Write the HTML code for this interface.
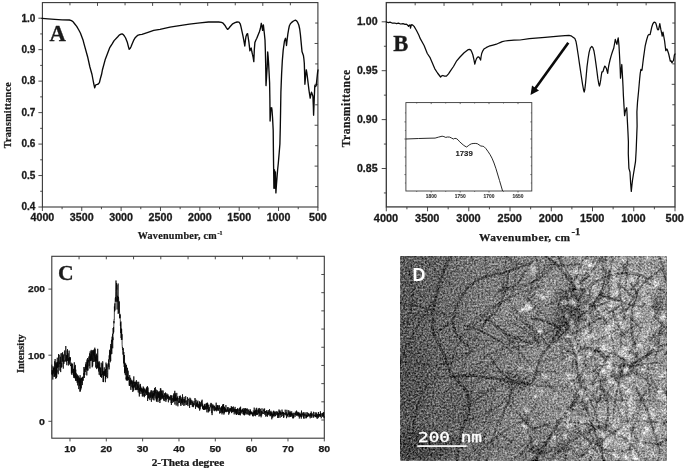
<!DOCTYPE html>
<html lang="en">
<head>
<meta charset="utf-8">
<title>FTIR spectra, XRD pattern and TEM image</title>
<style>
html,body{margin:0;padding:0;background:#fff;}
body{width:685px;height:470px;overflow:hidden;}
svg{display:block;}
</style>
</head>
<body>
<svg width="685" height="470" viewBox="0 0 685 470">
<rect x="0" y="0" width="685" height="470" fill="#ffffff"/>
<rect x="42.40" y="2.60" width="275.50" height="204.40" fill="none" stroke="#383838" stroke-width="1.1"/>
<line x1="69.95" y1="2.60" x2="69.95" y2="5.30" stroke="#383838" stroke-width="0.9"/>
<line x1="317.90" y1="23.04" x2="315.20" y2="23.04" stroke="#383838" stroke-width="0.9"/>
<line x1="97.50" y1="2.60" x2="97.50" y2="5.90" stroke="#383838" stroke-width="0.9"/>
<line x1="317.90" y1="43.48" x2="314.60" y2="43.48" stroke="#383838" stroke-width="0.9"/>
<line x1="125.05" y1="2.60" x2="125.05" y2="5.30" stroke="#383838" stroke-width="0.9"/>
<line x1="317.90" y1="63.92" x2="315.20" y2="63.92" stroke="#383838" stroke-width="0.9"/>
<line x1="152.60" y1="2.60" x2="152.60" y2="5.90" stroke="#383838" stroke-width="0.9"/>
<line x1="317.90" y1="84.36" x2="314.60" y2="84.36" stroke="#383838" stroke-width="0.9"/>
<line x1="180.15" y1="2.60" x2="180.15" y2="5.30" stroke="#383838" stroke-width="0.9"/>
<line x1="317.90" y1="104.80" x2="315.20" y2="104.80" stroke="#383838" stroke-width="0.9"/>
<line x1="207.70" y1="2.60" x2="207.70" y2="5.90" stroke="#383838" stroke-width="0.9"/>
<line x1="317.90" y1="125.24" x2="314.60" y2="125.24" stroke="#383838" stroke-width="0.9"/>
<line x1="235.25" y1="2.60" x2="235.25" y2="5.30" stroke="#383838" stroke-width="0.9"/>
<line x1="317.90" y1="145.68" x2="315.20" y2="145.68" stroke="#383838" stroke-width="0.9"/>
<line x1="262.80" y1="2.60" x2="262.80" y2="5.90" stroke="#383838" stroke-width="0.9"/>
<line x1="317.90" y1="166.12" x2="314.60" y2="166.12" stroke="#383838" stroke-width="0.9"/>
<line x1="290.35" y1="2.60" x2="290.35" y2="5.30" stroke="#383838" stroke-width="0.9"/>
<line x1="317.90" y1="186.56" x2="315.20" y2="186.56" stroke="#383838" stroke-width="0.9"/>
<line x1="42.40" y1="18.20" x2="38.40" y2="18.20" stroke="#383838" stroke-width="0.9"/>
<text x="35.30" y="21.50" font-family='"Liberation Sans", "DejaVu Sans", sans-serif' font-size="10" font-weight="bold" text-anchor="end" fill="#1a1a1a" stroke="#1a1a1a" stroke-width="0.3" >1.0</text>
<line x1="42.40" y1="33.93" x2="40.20" y2="33.93" stroke="#383838" stroke-width="0.9"/>
<line x1="42.40" y1="49.67" x2="38.40" y2="49.67" stroke="#383838" stroke-width="0.9"/>
<text x="35.30" y="52.97" font-family='"Liberation Sans", "DejaVu Sans", sans-serif' font-size="10" font-weight="bold" text-anchor="end" fill="#1a1a1a" stroke="#1a1a1a" stroke-width="0.3" >0.9</text>
<line x1="42.40" y1="65.40" x2="40.20" y2="65.40" stroke="#383838" stroke-width="0.9"/>
<line x1="42.40" y1="81.14" x2="38.40" y2="81.14" stroke="#383838" stroke-width="0.9"/>
<text x="35.30" y="84.44" font-family='"Liberation Sans", "DejaVu Sans", sans-serif' font-size="10" font-weight="bold" text-anchor="end" fill="#1a1a1a" stroke="#1a1a1a" stroke-width="0.3" >0.8</text>
<line x1="42.40" y1="96.87" x2="40.20" y2="96.87" stroke="#383838" stroke-width="0.9"/>
<line x1="42.40" y1="112.61" x2="38.40" y2="112.61" stroke="#383838" stroke-width="0.9"/>
<text x="35.30" y="115.91" font-family='"Liberation Sans", "DejaVu Sans", sans-serif' font-size="10" font-weight="bold" text-anchor="end" fill="#1a1a1a" stroke="#1a1a1a" stroke-width="0.3" >0.7</text>
<line x1="42.40" y1="128.34" x2="40.20" y2="128.34" stroke="#383838" stroke-width="0.9"/>
<line x1="42.40" y1="144.08" x2="38.40" y2="144.08" stroke="#383838" stroke-width="0.9"/>
<text x="35.30" y="147.38" font-family='"Liberation Sans", "DejaVu Sans", sans-serif' font-size="10" font-weight="bold" text-anchor="end" fill="#1a1a1a" stroke="#1a1a1a" stroke-width="0.3" >0.6</text>
<line x1="42.40" y1="159.81" x2="40.20" y2="159.81" stroke="#383838" stroke-width="0.9"/>
<line x1="42.40" y1="175.55" x2="38.40" y2="175.55" stroke="#383838" stroke-width="0.9"/>
<text x="35.30" y="178.85" font-family='"Liberation Sans", "DejaVu Sans", sans-serif' font-size="10" font-weight="bold" text-anchor="end" fill="#1a1a1a" stroke="#1a1a1a" stroke-width="0.3" >0.5</text>
<line x1="42.40" y1="191.28" x2="40.20" y2="191.28" stroke="#383838" stroke-width="0.9"/>
<line x1="42.40" y1="207.02" x2="38.40" y2="207.02" stroke="#383838" stroke-width="0.9"/>
<text x="35.30" y="210.32" font-family='"Liberation Sans", "DejaVu Sans", sans-serif' font-size="10" font-weight="bold" text-anchor="end" fill="#1a1a1a" stroke="#1a1a1a" stroke-width="0.3" >0.4</text>
<line x1="42.40" y1="207.00" x2="42.40" y2="211.00" stroke="#383838" stroke-width="0.9"/>
<text x="42.40" y="221.20" font-family='"Liberation Sans", "DejaVu Sans", sans-serif' font-size="10.7" font-weight="bold" text-anchor="middle" fill="#1a1a1a" stroke="#1a1a1a" stroke-width="0.3" >4000</text>
<line x1="62.08" y1="207.00" x2="62.08" y2="209.20" stroke="#383838" stroke-width="0.9"/>
<line x1="81.76" y1="207.00" x2="81.76" y2="211.00" stroke="#383838" stroke-width="0.9"/>
<text x="81.76" y="221.20" font-family='"Liberation Sans", "DejaVu Sans", sans-serif' font-size="10.7" font-weight="bold" text-anchor="middle" fill="#1a1a1a" stroke="#1a1a1a" stroke-width="0.3" >3500</text>
<line x1="101.44" y1="207.00" x2="101.44" y2="209.20" stroke="#383838" stroke-width="0.9"/>
<line x1="121.11" y1="207.00" x2="121.11" y2="211.00" stroke="#383838" stroke-width="0.9"/>
<text x="121.11" y="221.20" font-family='"Liberation Sans", "DejaVu Sans", sans-serif' font-size="10.7" font-weight="bold" text-anchor="middle" fill="#1a1a1a" stroke="#1a1a1a" stroke-width="0.3" >3000</text>
<line x1="140.79" y1="207.00" x2="140.79" y2="209.20" stroke="#383838" stroke-width="0.9"/>
<line x1="160.47" y1="207.00" x2="160.47" y2="211.00" stroke="#383838" stroke-width="0.9"/>
<text x="160.47" y="221.20" font-family='"Liberation Sans", "DejaVu Sans", sans-serif' font-size="10.7" font-weight="bold" text-anchor="middle" fill="#1a1a1a" stroke="#1a1a1a" stroke-width="0.3" >2500</text>
<line x1="180.15" y1="207.00" x2="180.15" y2="209.20" stroke="#383838" stroke-width="0.9"/>
<line x1="199.83" y1="207.00" x2="199.83" y2="211.00" stroke="#383838" stroke-width="0.9"/>
<text x="199.83" y="221.20" font-family='"Liberation Sans", "DejaVu Sans", sans-serif' font-size="10.7" font-weight="bold" text-anchor="middle" fill="#1a1a1a" stroke="#1a1a1a" stroke-width="0.3" >2000</text>
<line x1="219.51" y1="207.00" x2="219.51" y2="209.20" stroke="#383838" stroke-width="0.9"/>
<line x1="239.19" y1="207.00" x2="239.19" y2="211.00" stroke="#383838" stroke-width="0.9"/>
<text x="239.19" y="221.20" font-family='"Liberation Sans", "DejaVu Sans", sans-serif' font-size="10.7" font-weight="bold" text-anchor="middle" fill="#1a1a1a" stroke="#1a1a1a" stroke-width="0.3" >1500</text>
<line x1="258.86" y1="207.00" x2="258.86" y2="209.20" stroke="#383838" stroke-width="0.9"/>
<line x1="278.54" y1="207.00" x2="278.54" y2="211.00" stroke="#383838" stroke-width="0.9"/>
<text x="278.54" y="221.20" font-family='"Liberation Sans", "DejaVu Sans", sans-serif' font-size="10.7" font-weight="bold" text-anchor="middle" fill="#1a1a1a" stroke="#1a1a1a" stroke-width="0.3" >1000</text>
<line x1="298.22" y1="207.00" x2="298.22" y2="209.20" stroke="#383838" stroke-width="0.9"/>
<line x1="317.90" y1="207.00" x2="317.90" y2="211.00" stroke="#383838" stroke-width="0.9"/>
<text x="317.90" y="221.20" font-family='"Liberation Sans", "DejaVu Sans", sans-serif' font-size="10.7" font-weight="bold" text-anchor="middle" fill="#1a1a1a" stroke="#1a1a1a" stroke-width="0.3" >500</text>
<polyline fill="none" stroke="#0a0a0a" stroke-width="1.35" stroke-linejoin="round" stroke-linecap="round" points="42.0,18.4 48.0,18.9 54.7,19.4 62.0,19.8 69.4,20.0 71.5,20.6 73.0,21.7 74.4,23.5 76.7,26.4 78.8,30.0 80.4,33.0 83.2,40.6 84.1,44.1 87.6,56.7 89.9,67.0 92.0,74.5 93.6,83.0 94.7,87.8 95.4,85.6 96.1,84.6 97.6,84.4 98.6,83.6 99.4,82.6 100.4,78.5 101.6,74.3 102.4,70.0 105.2,59.6 106.1,57.3 109.6,47.9 112.0,44.1 114.1,40.6 117.8,36.7 119.2,35.1 121.0,34.2 122.1,33.9 123.3,34.6 124.4,36.0 125.6,38.0 127.4,42.6 128.4,46.6 129.2,49.3 130.0,48.6 130.9,47.0 131.8,44.8 133.9,39.8 135.4,37.4 137.5,35.4 139.9,34.6 142.0,34.3 148.0,32.3 153.7,30.4 160.0,29.3 170.0,27.2 174.7,26.4 189.4,24.2 200.0,22.8 208.5,22.0 218.7,22.0 221.5,22.4 223.1,23.2 224.8,25.2 226.1,27.4 227.5,29.4 228.6,28.6 229.8,27.0 232.7,23.8 235.0,22.7 237.1,22.0 239.0,22.2 240.2,23.8 240.9,26.4 242.2,32.3 242.9,35.6 243.7,39.6 244.8,46.0 245.4,40.5 246.0,36.4 246.9,34.0 247.6,33.6 248.2,37.5 248.9,42.2 249.9,50.8 250.6,49.0 251.2,48.0 251.8,51.5 252.4,54.2 253.1,57.0 253.8,61.6 254.3,50.0 254.9,42.4 255.8,40.2 256.8,38.3 258.2,34.8 259.4,31.7 260.4,28.5 261.3,23.3 262.0,26.5 262.6,30.4 263.0,27.0 263.4,25.0 263.9,29.5 264.3,33.0 265.0,40.0 265.4,52.0 265.7,66.0 266.0,85.6 266.6,76.0 267.2,67.0 267.7,52.0 268.1,56.0 268.6,63.2 269.1,73.0 269.6,83.0 269.9,100.0 270.1,121.0 270.6,112.0 271.0,108.0 271.7,107.8 272.0,110.0 272.6,118.5 273.2,130.4 273.4,150.0 273.6,165.8 273.9,188.3 274.5,169.8 275.0,188.3 275.4,172.0 275.9,192.9 276.5,184.0 277.0,177.7 277.6,170.0 278.3,163.2 279.2,152.8 279.9,144.0 280.3,127.0 280.6,110.6 280.9,92.0 281.6,74.0 282.3,61.0 283.2,50.1 284.5,40.9 285.5,38.3 286.1,41.5 286.5,45.5 287.1,40.0 287.8,34.3 288.6,29.5 289.4,25.7 290.4,23.8 291.7,22.4 293.5,21.0 295.4,20.2 296.6,20.8 297.7,22.4 298.8,25.0 299.7,29.0 300.4,34.5 301.0,40.9 302.0,51.5 302.7,53.5 303.4,55.4 303.9,59.0 304.3,63.2 304.6,73.0 304.9,84.3 305.6,76.0 306.3,69.8 306.8,72.5 307.3,76.4 308.1,83.0 308.9,89.6 309.6,94.5 310.2,98.2 310.9,94.5 311.5,92.2 312.2,94.0 312.9,96.2 313.3,105.0 313.6,115.2 314.2,100.0 314.8,85.6 315.5,86.5 316.2,85.6 316.9,79.0 317.6,72.4 318.0,70.0"/>
<text x="57.60" y="41.10" font-family='"Liberation Serif", "DejaVu Serif", serif' font-size="22.6" font-weight="bold" text-anchor="middle" fill="#1a1a1a" stroke="#1a1a1a" stroke-width="0.3" >A</text>
<text transform="translate(11.2,115.3) rotate(-90)" font-family='"Liberation Serif", "DejaVu Serif", serif' font-size="10" font-weight="bold" text-anchor="middle" fill="#1a1a1a" stroke="#1a1a1a" stroke-width="0.22" textLength="66" lengthAdjust="spacing">Transmittance</text>
<text x="137.7" y="239.2" font-family='"Liberation Serif", "DejaVu Serif", serif' font-size="10.1" font-weight="bold" fill="#1a1a1a" stroke="#1a1a1a" stroke-width="0.22"><tspan textLength="79" lengthAdjust="spacing">Wavenumber, cm</tspan><tspan dx="0.6" dy="-4.6" font-size="6">-1</tspan></text>
<rect x="386.30" y="2.60" width="288.70" height="204.30" fill="none" stroke="#383838" stroke-width="1.3"/>
<line x1="415.17" y1="2.60" x2="415.17" y2="5.30" stroke="#383838" stroke-width="0.9"/>
<line x1="675.00" y1="23.03" x2="672.30" y2="23.03" stroke="#383838" stroke-width="0.9"/>
<line x1="444.04" y1="2.60" x2="444.04" y2="5.90" stroke="#383838" stroke-width="0.9"/>
<line x1="675.00" y1="43.46" x2="671.70" y2="43.46" stroke="#383838" stroke-width="0.9"/>
<line x1="472.91" y1="2.60" x2="472.91" y2="5.30" stroke="#383838" stroke-width="0.9"/>
<line x1="675.00" y1="63.89" x2="672.30" y2="63.89" stroke="#383838" stroke-width="0.9"/>
<line x1="501.78" y1="2.60" x2="501.78" y2="5.90" stroke="#383838" stroke-width="0.9"/>
<line x1="675.00" y1="84.32" x2="671.70" y2="84.32" stroke="#383838" stroke-width="0.9"/>
<line x1="530.65" y1="2.60" x2="530.65" y2="5.30" stroke="#383838" stroke-width="0.9"/>
<line x1="675.00" y1="104.75" x2="672.30" y2="104.75" stroke="#383838" stroke-width="0.9"/>
<line x1="559.52" y1="2.60" x2="559.52" y2="5.90" stroke="#383838" stroke-width="0.9"/>
<line x1="675.00" y1="125.18" x2="671.70" y2="125.18" stroke="#383838" stroke-width="0.9"/>
<line x1="588.39" y1="2.60" x2="588.39" y2="5.30" stroke="#383838" stroke-width="0.9"/>
<line x1="675.00" y1="145.61" x2="672.30" y2="145.61" stroke="#383838" stroke-width="0.9"/>
<line x1="617.26" y1="2.60" x2="617.26" y2="5.90" stroke="#383838" stroke-width="0.9"/>
<line x1="675.00" y1="166.04" x2="671.70" y2="166.04" stroke="#383838" stroke-width="0.9"/>
<line x1="646.13" y1="2.60" x2="646.13" y2="5.30" stroke="#383838" stroke-width="0.9"/>
<line x1="675.00" y1="186.47" x2="672.30" y2="186.47" stroke="#383838" stroke-width="0.9"/>
<line x1="386.30" y1="21.80" x2="381.70" y2="21.80" stroke="#383838" stroke-width="0.9"/>
<text x="377.60" y="25.20" font-family='"Liberation Sans", "DejaVu Sans", sans-serif' font-size="10.6" font-weight="bold" text-anchor="end" fill="#1a1a1a" stroke="#1a1a1a" stroke-width="0.3" >1.00</text>
<line x1="386.30" y1="46.25" x2="383.90" y2="46.25" stroke="#383838" stroke-width="0.9"/>
<line x1="386.30" y1="70.70" x2="381.70" y2="70.70" stroke="#383838" stroke-width="0.9"/>
<text x="377.60" y="74.10" font-family='"Liberation Sans", "DejaVu Sans", sans-serif' font-size="10.6" font-weight="bold" text-anchor="end" fill="#1a1a1a" stroke="#1a1a1a" stroke-width="0.3" >0.95</text>
<line x1="386.30" y1="95.15" x2="383.90" y2="95.15" stroke="#383838" stroke-width="0.9"/>
<line x1="386.30" y1="119.60" x2="381.70" y2="119.60" stroke="#383838" stroke-width="0.9"/>
<text x="377.60" y="123.00" font-family='"Liberation Sans", "DejaVu Sans", sans-serif' font-size="10.6" font-weight="bold" text-anchor="end" fill="#1a1a1a" stroke="#1a1a1a" stroke-width="0.3" >0.90</text>
<line x1="386.30" y1="144.05" x2="383.90" y2="144.05" stroke="#383838" stroke-width="0.9"/>
<line x1="386.30" y1="168.50" x2="381.70" y2="168.50" stroke="#383838" stroke-width="0.9"/>
<text x="377.60" y="171.90" font-family='"Liberation Sans", "DejaVu Sans", sans-serif' font-size="10.6" font-weight="bold" text-anchor="end" fill="#1a1a1a" stroke="#1a1a1a" stroke-width="0.3" >0.85</text>
<line x1="386.30" y1="192.95" x2="383.90" y2="192.95" stroke="#383838" stroke-width="0.9"/>
<line x1="386.30" y1="206.90" x2="386.30" y2="211.30" stroke="#383838" stroke-width="0.9"/>
<text x="386.00" y="221.50" font-family='"Liberation Sans", "DejaVu Sans", sans-serif' font-size="10.95" font-weight="bold" text-anchor="middle" fill="#1a1a1a" stroke="#1a1a1a" stroke-width="0.3" >4000</text>
<line x1="406.92" y1="206.90" x2="406.92" y2="209.30" stroke="#383838" stroke-width="0.9"/>
<line x1="427.54" y1="206.90" x2="427.54" y2="211.30" stroke="#383838" stroke-width="0.9"/>
<text x="427.24" y="221.50" font-family='"Liberation Sans", "DejaVu Sans", sans-serif' font-size="10.95" font-weight="bold" text-anchor="middle" fill="#1a1a1a" stroke="#1a1a1a" stroke-width="0.3" >3500</text>
<line x1="448.16" y1="206.90" x2="448.16" y2="209.30" stroke="#383838" stroke-width="0.9"/>
<line x1="468.79" y1="206.90" x2="468.79" y2="211.30" stroke="#383838" stroke-width="0.9"/>
<text x="468.49" y="221.50" font-family='"Liberation Sans", "DejaVu Sans", sans-serif' font-size="10.95" font-weight="bold" text-anchor="middle" fill="#1a1a1a" stroke="#1a1a1a" stroke-width="0.3" >3000</text>
<line x1="489.41" y1="206.90" x2="489.41" y2="209.30" stroke="#383838" stroke-width="0.9"/>
<line x1="510.03" y1="206.90" x2="510.03" y2="211.30" stroke="#383838" stroke-width="0.9"/>
<text x="509.73" y="221.50" font-family='"Liberation Sans", "DejaVu Sans", sans-serif' font-size="10.95" font-weight="bold" text-anchor="middle" fill="#1a1a1a" stroke="#1a1a1a" stroke-width="0.3" >2500</text>
<line x1="530.65" y1="206.90" x2="530.65" y2="209.30" stroke="#383838" stroke-width="0.9"/>
<line x1="551.27" y1="206.90" x2="551.27" y2="211.30" stroke="#383838" stroke-width="0.9"/>
<text x="550.97" y="221.50" font-family='"Liberation Sans", "DejaVu Sans", sans-serif' font-size="10.95" font-weight="bold" text-anchor="middle" fill="#1a1a1a" stroke="#1a1a1a" stroke-width="0.3" >2000</text>
<line x1="571.89" y1="206.90" x2="571.89" y2="209.30" stroke="#383838" stroke-width="0.9"/>
<line x1="592.51" y1="206.90" x2="592.51" y2="211.30" stroke="#383838" stroke-width="0.9"/>
<text x="592.21" y="221.50" font-family='"Liberation Sans", "DejaVu Sans", sans-serif' font-size="10.95" font-weight="bold" text-anchor="middle" fill="#1a1a1a" stroke="#1a1a1a" stroke-width="0.3" >1500</text>
<line x1="613.14" y1="206.90" x2="613.14" y2="209.30" stroke="#383838" stroke-width="0.9"/>
<line x1="633.76" y1="206.90" x2="633.76" y2="211.30" stroke="#383838" stroke-width="0.9"/>
<text x="633.46" y="221.50" font-family='"Liberation Sans", "DejaVu Sans", sans-serif' font-size="10.95" font-weight="bold" text-anchor="middle" fill="#1a1a1a" stroke="#1a1a1a" stroke-width="0.3" >1000</text>
<line x1="654.38" y1="206.90" x2="654.38" y2="209.30" stroke="#383838" stroke-width="0.9"/>
<line x1="675.00" y1="206.90" x2="675.00" y2="211.30" stroke="#383838" stroke-width="0.9"/>
<text x="674.70" y="221.50" font-family='"Liberation Sans", "DejaVu Sans", sans-serif' font-size="10.95" font-weight="bold" text-anchor="middle" fill="#1a1a1a" stroke="#1a1a1a" stroke-width="0.3" >500</text>
<polyline fill="none" stroke="#0a0a0a" stroke-width="1.25" stroke-linejoin="round" stroke-linecap="round" points="386.3,22.0 388.5,22.6 390.0,22.2 392.0,23.0 394.7,23.0 396.5,23.6 398.5,23.2 400.5,24.0 403.0,23.6 405.0,24.3 406.4,24.2 407.5,25.0 408.6,26.4 409.4,25.2 410.1,24.8 410.5,28.2 411.0,26.0 411.6,24.7 412.8,25.2 414.1,26.4 416.5,30.5 418.9,35.2 420.0,38.1 424.1,45.5 427.3,53.5 429.9,57.3 434.7,68.6 437.5,73.0 440.6,77.0 441.7,75.8 442.8,75.5 444.5,76.2 446.4,76.2 448.5,73.8 450.8,70.4 453.5,66.5 456.7,60.8 460.0,57.0 464.1,52.8 467.7,49.9 469.3,49.4 470.7,49.9 471.8,52.0 472.9,55.0 473.9,59.5 474.8,64.1 475.6,61.0 476.5,58.6 477.6,57.2 478.7,56.9 479.7,58.2 480.6,60.1 481.1,56.5 481.7,53.5 482.8,50.8 483.9,49.1 486.5,47.4 489.0,46.2 493.0,45.1 496.4,44.2 499.5,42.8 502.2,41.7 505.0,41.0 508.1,40.6 514.0,40.2 520.0,40.0 529.4,38.6 545.0,37.4 558.7,36.2 565.0,35.6 569.0,35.4 571.0,35.8 572.7,36.9 574.9,38.6 576.0,41.5 576.8,45.9 578.2,55.0 579.7,65.3 581.2,75.5 582.6,84.7 583.5,89.5 584.2,92.0 584.8,89.5 585.4,84.7 586.2,76.0 587.0,66.9 588.1,58.5 589.1,52.4 590.3,48.2 591.8,46.4 592.9,47.6 593.9,50.7 594.9,56.5 595.9,63.7 596.9,71.0 597.8,78.2 598.7,83.5 599.4,86.0 600.0,84.0 600.7,79.9 601.3,75.5 601.9,71.8 602.6,71.8 603.2,71.0 604.0,68.0 604.8,66.1 605.6,67.0 606.4,68.5 607.1,71.0 607.7,73.4 608.2,69.0 608.8,65.3 610.0,60.0 611.2,55.6 612.5,51.5 613.7,48.3 614.5,44.0 615.3,39.4 616.1,42.0 616.9,44.3 617.6,40.5 618.2,37.8 618.6,41.5 619.0,45.9 619.4,53.0 619.8,60.4 620.2,69.5 620.5,78.2 621.1,70.5 621.8,64.5 622.2,71.0 622.6,78.2 623.0,86.0 623.4,95.8 624.0,106.0 624.6,115.6 625.2,112.0 625.6,110.4 626.2,108.6 626.7,107.7 627.0,113.0 627.3,119.6 627.9,131.0 628.4,142.0 628.3,153.8 628.9,168.3 630.0,172.2 630.6,182.8 631.3,191.4 631.9,185.5 632.5,180.1 633.4,174.5 634.2,169.6 635.5,161.7 636.2,149.8 636.8,134.0 637.1,126.0 636.9,112.0 637.5,102.4 638.6,91.0 639.6,79.5 640.2,73.5 640.9,69.3 641.5,70.4 642.0,70.1 642.8,63.5 643.6,57.2 644.4,51.5 645.2,45.9 646.6,40.0 648.0,35.4 649.0,34.5 650.1,34.6 650.9,31.0 651.7,27.3 652.7,24.2 653.8,22.4 654.8,22.2 655.7,22.9 656.5,25.5 657.3,28.9 658.0,29.8 658.6,29.7 659.2,26.5 659.8,23.6 660.3,26.5 660.9,29.7 661.6,33.0 662.2,36.2 662.6,33.5 663.0,32.1 663.8,36.5 664.6,41.0 665.2,46.0 665.8,50.7 666.4,49.2 667.1,49.1 667.9,51.5 668.7,54.0 669.5,57.5 670.3,61.2 671.1,60.8 671.9,62.9 672.7,61.5 673.5,60.4 674.0,57.5 674.4,54.8 675.0,54.0"/>
<text x="400.90" y="51.40" font-family='"Liberation Serif", "DejaVu Serif", serif' font-size="22.6" font-weight="bold" text-anchor="middle" fill="#1a1a1a" stroke="#1a1a1a" stroke-width="0.3" >B</text>
<text transform="translate(349.6,108.5) rotate(-90)" font-family='"Liberation Serif", "DejaVu Serif", serif' font-size="11.6" font-weight="bold" text-anchor="middle" fill="#1a1a1a" stroke="#1a1a1a" stroke-width="0.22" textLength="77.4" lengthAdjust="spacing">Transmittance</text>
<text x="479.0" y="240.6" font-family='"Liberation Serif", "DejaVu Serif", serif' font-size="11.4" font-weight="bold" fill="#1a1a1a" stroke="#1a1a1a" stroke-width="0.25"><tspan textLength="91" lengthAdjust="spacing">Wavenumber, cm</tspan><tspan dx="1.0" dy="-5.6" font-size="10.6">-1</tspan></text>
<line x1="568.3" y1="42.8" x2="534.9" y2="88.9" stroke="#0a0a0a" stroke-width="2.6"/>
<polygon fill="#0a0a0a" points="530.5,95.0 532.0,85.6 539.0,90.6"/>
<rect x="405.90" y="102.60" width="125.90" height="88.40" fill="none" stroke="#383838" stroke-width="0.9"/>
<line x1="405.90" y1="121.90" x2="404.40" y2="121.90" stroke="#383838" stroke-width="0.7"/>
<line x1="531.80" y1="121.90" x2="530.30" y2="121.90" stroke="#383838" stroke-width="0.7"/>
<line x1="405.90" y1="139.00" x2="404.40" y2="139.00" stroke="#383838" stroke-width="0.7"/>
<line x1="531.80" y1="139.00" x2="530.30" y2="139.00" stroke="#383838" stroke-width="0.7"/>
<line x1="405.90" y1="157.00" x2="404.40" y2="157.00" stroke="#383838" stroke-width="0.7"/>
<line x1="531.80" y1="157.00" x2="530.30" y2="157.00" stroke="#383838" stroke-width="0.7"/>
<line x1="405.90" y1="174.60" x2="404.40" y2="174.60" stroke="#383838" stroke-width="0.7"/>
<line x1="531.80" y1="174.60" x2="530.30" y2="174.60" stroke="#383838" stroke-width="0.7"/>
<line x1="405.90" y1="112.90" x2="404.90" y2="112.90" stroke="#383838" stroke-width="0.6"/>
<line x1="531.80" y1="112.90" x2="530.80" y2="112.90" stroke="#383838" stroke-width="0.6"/>
<line x1="405.90" y1="130.50" x2="404.90" y2="130.50" stroke="#383838" stroke-width="0.6"/>
<line x1="531.80" y1="130.50" x2="530.80" y2="130.50" stroke="#383838" stroke-width="0.6"/>
<line x1="405.90" y1="148.00" x2="404.90" y2="148.00" stroke="#383838" stroke-width="0.6"/>
<line x1="531.80" y1="148.00" x2="530.80" y2="148.00" stroke="#383838" stroke-width="0.6"/>
<line x1="405.90" y1="165.80" x2="404.90" y2="165.80" stroke="#383838" stroke-width="0.6"/>
<line x1="531.80" y1="165.80" x2="530.80" y2="165.80" stroke="#383838" stroke-width="0.6"/>
<line x1="405.90" y1="183.00" x2="404.90" y2="183.00" stroke="#383838" stroke-width="0.6"/>
<line x1="531.80" y1="183.00" x2="530.80" y2="183.00" stroke="#383838" stroke-width="0.6"/>
<line x1="431.20" y1="191.00" x2="431.20" y2="192.50" stroke="#383838" stroke-width="0.7"/>
<line x1="431.20" y1="102.60" x2="431.20" y2="104.10" stroke="#383838" stroke-width="0.7"/>
<text x="431.20" y="198.00" font-family='"Liberation Sans", "DejaVu Sans", sans-serif' font-size="4.9" font-weight="bold" text-anchor="middle" fill="#333" stroke="#333" stroke-width="0.1" >1800</text>
<line x1="460.20" y1="191.00" x2="460.20" y2="192.50" stroke="#383838" stroke-width="0.7"/>
<line x1="460.20" y1="102.60" x2="460.20" y2="104.10" stroke="#383838" stroke-width="0.7"/>
<text x="460.20" y="198.00" font-family='"Liberation Sans", "DejaVu Sans", sans-serif' font-size="4.9" font-weight="bold" text-anchor="middle" fill="#333" stroke="#333" stroke-width="0.1" >1750</text>
<line x1="489.00" y1="191.00" x2="489.00" y2="192.50" stroke="#383838" stroke-width="0.7"/>
<line x1="489.00" y1="102.60" x2="489.00" y2="104.10" stroke="#383838" stroke-width="0.7"/>
<text x="489.00" y="198.00" font-family='"Liberation Sans", "DejaVu Sans", sans-serif' font-size="4.9" font-weight="bold" text-anchor="middle" fill="#333" stroke="#333" stroke-width="0.1" >1700</text>
<line x1="518.00" y1="191.00" x2="518.00" y2="192.50" stroke="#383838" stroke-width="0.7"/>
<line x1="518.00" y1="102.60" x2="518.00" y2="104.10" stroke="#383838" stroke-width="0.7"/>
<text x="518.00" y="198.00" font-family='"Liberation Sans", "DejaVu Sans", sans-serif' font-size="4.9" font-weight="bold" text-anchor="middle" fill="#333" stroke="#333" stroke-width="0.1" >1650</text>
<line x1="416.70" y1="191.00" x2="416.70" y2="192.00" stroke="#383838" stroke-width="0.6"/>
<line x1="416.70" y1="102.60" x2="416.70" y2="103.60" stroke="#383838" stroke-width="0.6"/>
<line x1="445.70" y1="191.00" x2="445.70" y2="192.00" stroke="#383838" stroke-width="0.6"/>
<line x1="445.70" y1="102.60" x2="445.70" y2="103.60" stroke="#383838" stroke-width="0.6"/>
<line x1="474.60" y1="191.00" x2="474.60" y2="192.00" stroke="#383838" stroke-width="0.6"/>
<line x1="474.60" y1="102.60" x2="474.60" y2="103.60" stroke="#383838" stroke-width="0.6"/>
<line x1="503.50" y1="191.00" x2="503.50" y2="192.00" stroke="#383838" stroke-width="0.6"/>
<line x1="503.50" y1="102.60" x2="503.50" y2="103.60" stroke="#383838" stroke-width="0.6"/>
<polyline fill="none" stroke="#111" stroke-width="0.9" stroke-linejoin="round" points="405.9,139.0 418.7,138.5 430.0,138.2 435.1,138.1 438.6,137.1 442.1,136.2 443.9,136.6 445.7,137.4 447.5,137.0 449.6,137.1 451.5,138.0 453.4,139.0 454.8,138.4 456.2,138.5 458.0,139.8 459.7,141.8 463.2,144.9 465.0,146.2 466.7,147.0 468.2,145.8 469.8,144.6 471.4,143.8 473.1,143.5 475.2,143.4 477.3,143.7 479.0,144.8 480.8,146.0 482.3,146.2 483.8,146.5 485.8,148.5 487.8,151.2 490.0,154.5 492.0,158.2 494.0,163.0 496.0,168.8 499.5,180.5 502.6,191.0"/>
<text x="464.10" y="156.40" font-family='"Liberation Sans", "DejaVu Sans", sans-serif' font-size="7.8" font-weight="bold" text-anchor="middle" fill="#222" stroke="#222" stroke-width="0.1" >1739</text>
<rect x="51.80" y="256.30" width="272.50" height="181.90" fill="none" stroke="#383838" stroke-width="1.1"/>
<line x1="79.05" y1="256.30" x2="79.05" y2="259.30" stroke="#383838" stroke-width="0.9"/>
<line x1="324.30" y1="274.49" x2="321.30" y2="274.49" stroke="#383838" stroke-width="0.9"/>
<line x1="106.30" y1="256.30" x2="106.30" y2="259.30" stroke="#383838" stroke-width="0.9"/>
<line x1="324.30" y1="292.68" x2="321.30" y2="292.68" stroke="#383838" stroke-width="0.9"/>
<line x1="133.55" y1="256.30" x2="133.55" y2="259.30" stroke="#383838" stroke-width="0.9"/>
<line x1="324.30" y1="310.87" x2="321.30" y2="310.87" stroke="#383838" stroke-width="0.9"/>
<line x1="160.80" y1="256.30" x2="160.80" y2="259.30" stroke="#383838" stroke-width="0.9"/>
<line x1="324.30" y1="329.06" x2="321.30" y2="329.06" stroke="#383838" stroke-width="0.9"/>
<line x1="188.05" y1="256.30" x2="188.05" y2="259.30" stroke="#383838" stroke-width="0.9"/>
<line x1="324.30" y1="347.25" x2="321.30" y2="347.25" stroke="#383838" stroke-width="0.9"/>
<line x1="215.30" y1="256.30" x2="215.30" y2="259.30" stroke="#383838" stroke-width="0.9"/>
<line x1="324.30" y1="365.44" x2="321.30" y2="365.44" stroke="#383838" stroke-width="0.9"/>
<line x1="242.55" y1="256.30" x2="242.55" y2="259.30" stroke="#383838" stroke-width="0.9"/>
<line x1="324.30" y1="383.63" x2="321.30" y2="383.63" stroke="#383838" stroke-width="0.9"/>
<line x1="269.80" y1="256.30" x2="269.80" y2="259.30" stroke="#383838" stroke-width="0.9"/>
<line x1="324.30" y1="401.82" x2="321.30" y2="401.82" stroke="#383838" stroke-width="0.9"/>
<line x1="297.05" y1="256.30" x2="297.05" y2="259.30" stroke="#383838" stroke-width="0.9"/>
<line x1="324.30" y1="420.01" x2="321.30" y2="420.01" stroke="#383838" stroke-width="0.9"/>
<line x1="51.80" y1="421.30" x2="48.40" y2="421.30" stroke="#383838" stroke-width="0.9"/>
<text x="45.0" y="424.6" font-family='"Liberation Sans", "DejaVu Sans", sans-serif' font-size="9.9" font-weight="bold" text-anchor="end" fill="#1a1a1a" stroke="#1a1a1a" stroke-width="0.25" textLength="5.9" lengthAdjust="spacingAndGlyphs">0</text>
<line x1="51.80" y1="355.20" x2="48.40" y2="355.20" stroke="#383838" stroke-width="0.9"/>
<text x="45.0" y="358.5" font-family='"Liberation Sans", "DejaVu Sans", sans-serif' font-size="9.9" font-weight="bold" text-anchor="end" fill="#1a1a1a" stroke="#1a1a1a" stroke-width="0.25" textLength="17.0" lengthAdjust="spacingAndGlyphs">100</text>
<line x1="51.80" y1="289.10" x2="48.40" y2="289.10" stroke="#383838" stroke-width="0.9"/>
<text x="45.0" y="292.4" font-family='"Liberation Sans", "DejaVu Sans", sans-serif' font-size="9.9" font-weight="bold" text-anchor="end" fill="#1a1a1a" stroke="#1a1a1a" stroke-width="0.25" textLength="17.0" lengthAdjust="spacingAndGlyphs">200</text>
<line x1="69.97" y1="438.20" x2="69.97" y2="441.40" stroke="#383838" stroke-width="0.9"/>
<text x="70.0" y="451.7" font-family='"Liberation Sans", "DejaVu Sans", sans-serif' font-size="9.9" font-weight="bold" text-anchor="middle" fill="#1a1a1a" stroke="#1a1a1a" stroke-width="0.25" textLength="11.7" lengthAdjust="spacingAndGlyphs">10</text>
<line x1="106.30" y1="438.20" x2="106.30" y2="441.40" stroke="#383838" stroke-width="0.9"/>
<text x="106.3" y="451.7" font-family='"Liberation Sans", "DejaVu Sans", sans-serif' font-size="9.9" font-weight="bold" text-anchor="middle" fill="#1a1a1a" stroke="#1a1a1a" stroke-width="0.25" textLength="11.7" lengthAdjust="spacingAndGlyphs">20</text>
<line x1="142.63" y1="438.20" x2="142.63" y2="441.40" stroke="#383838" stroke-width="0.9"/>
<text x="142.6" y="451.7" font-family='"Liberation Sans", "DejaVu Sans", sans-serif' font-size="9.9" font-weight="bold" text-anchor="middle" fill="#1a1a1a" stroke="#1a1a1a" stroke-width="0.25" textLength="11.7" lengthAdjust="spacingAndGlyphs">30</text>
<line x1="178.97" y1="438.20" x2="178.97" y2="441.40" stroke="#383838" stroke-width="0.9"/>
<text x="179.0" y="451.7" font-family='"Liberation Sans", "DejaVu Sans", sans-serif' font-size="9.9" font-weight="bold" text-anchor="middle" fill="#1a1a1a" stroke="#1a1a1a" stroke-width="0.25" textLength="11.7" lengthAdjust="spacingAndGlyphs">40</text>
<line x1="215.30" y1="438.20" x2="215.30" y2="441.40" stroke="#383838" stroke-width="0.9"/>
<text x="215.3" y="451.7" font-family='"Liberation Sans", "DejaVu Sans", sans-serif' font-size="9.9" font-weight="bold" text-anchor="middle" fill="#1a1a1a" stroke="#1a1a1a" stroke-width="0.25" textLength="11.7" lengthAdjust="spacingAndGlyphs">50</text>
<line x1="251.63" y1="438.20" x2="251.63" y2="441.40" stroke="#383838" stroke-width="0.9"/>
<text x="251.6" y="451.7" font-family='"Liberation Sans", "DejaVu Sans", sans-serif' font-size="9.9" font-weight="bold" text-anchor="middle" fill="#1a1a1a" stroke="#1a1a1a" stroke-width="0.25" textLength="11.7" lengthAdjust="spacingAndGlyphs">60</text>
<line x1="287.97" y1="438.20" x2="287.97" y2="441.40" stroke="#383838" stroke-width="0.9"/>
<text x="288.0" y="451.7" font-family='"Liberation Sans", "DejaVu Sans", sans-serif' font-size="9.9" font-weight="bold" text-anchor="middle" fill="#1a1a1a" stroke="#1a1a1a" stroke-width="0.25" textLength="11.7" lengthAdjust="spacingAndGlyphs">70</text>
<line x1="324.30" y1="438.20" x2="324.30" y2="441.40" stroke="#383838" stroke-width="0.9"/>
<text x="324.3" y="451.7" font-family='"Liberation Sans", "DejaVu Sans", sans-serif' font-size="9.9" font-weight="bold" text-anchor="middle" fill="#1a1a1a" stroke="#1a1a1a" stroke-width="0.25" textLength="11.7" lengthAdjust="spacingAndGlyphs">80</text>
<polyline fill="none" stroke="#050505" stroke-width="0.75" stroke-linejoin="miter" points="51.8,364.6 51.9,374.4 52.1,371.9 52.2,370.0 52.4,375.4 52.5,371.6 52.7,371.4 52.8,379.5 53.0,366.3 53.1,368.1 53.3,373.7 53.4,371.4 53.5,368.1 53.7,371.6 53.8,371.3 54.0,376.9 54.1,367.2 54.3,369.1 54.4,368.2 54.6,376.7 54.7,361.3 54.9,368.3 55.0,371.4 55.1,359.0 55.3,368.8 55.4,375.4 55.6,370.2 55.7,378.7 55.9,362.9 56.0,369.8 56.2,371.2 56.3,362.3 56.5,378.1 56.6,364.5 56.7,377.0 56.9,370.1 57.0,372.6 57.2,359.4 57.3,357.7 57.5,367.8 57.6,361.9 57.8,366.8 57.9,362.9 58.0,369.3 58.2,373.8 58.3,374.2 58.5,363.2 58.6,354.0 58.8,363.4 58.9,367.2 59.1,354.9 59.2,363.1 59.4,363.6 59.5,362.6 59.6,364.4 59.8,365.1 59.9,370.6 60.1,360.6 60.2,363.5 60.4,356.8 60.5,364.5 60.7,372.1 60.8,362.7 61.0,353.4 61.1,363.8 61.2,366.2 61.4,367.6 61.5,366.7 61.7,362.7 61.8,367.0 62.0,353.1 62.1,362.0 62.3,359.8 62.4,352.8 62.6,352.3 62.7,360.9 62.8,358.0 63.0,355.8 63.1,360.5 63.3,368.6 63.4,355.9 63.6,354.5 63.7,356.9 63.9,363.8 64.0,359.9 64.2,361.8 64.3,360.8 64.4,351.8 64.6,350.5 64.7,354.8 64.9,355.4 65.0,354.6 65.2,358.1 65.3,358.3 65.5,361.4 65.6,358.0 65.8,346.0 65.9,352.9 66.0,359.2 66.2,359.8 66.3,361.7 66.5,355.3 66.6,355.4 66.8,365.2 66.9,355.2 67.1,360.8 67.2,350.5 67.4,357.3 67.5,349.2 67.6,360.8 67.8,360.0 67.9,357.1 68.1,353.3 68.2,356.0 68.4,365.5 68.5,358.2 68.7,359.2 68.8,361.7 68.9,362.9 69.1,350.6 69.2,361.8 69.4,364.5 69.5,357.2 69.7,360.1 69.8,361.4 70.0,357.3 70.1,359.1 70.3,360.1 70.4,357.4 70.5,361.1 70.7,366.0 70.8,365.0 71.0,366.1 71.1,362.7 71.3,369.4 71.4,373.5 71.6,364.2 71.7,371.6 71.9,374.9 72.0,363.7 72.1,369.4 72.3,363.7 72.4,369.1 72.6,372.3 72.7,373.1 72.9,369.9 73.0,369.0 73.2,372.0 73.3,369.6 73.5,376.0 73.6,368.8 73.7,377.8 73.9,370.4 74.0,366.5 74.2,364.9 74.3,362.3 74.5,378.2 74.6,367.7 74.8,366.1 74.9,367.6 75.1,376.9 75.2,371.1 75.3,364.9 75.5,380.7 75.6,371.3 75.8,369.7 75.9,378.3 76.1,372.9 76.2,380.8 76.4,380.0 76.5,380.5 76.7,376.4 76.8,378.1 76.9,374.0 77.1,382.7 77.2,379.6 77.4,375.1 77.5,377.0 77.7,385.4 77.8,377.1 78.0,382.2 78.1,378.7 78.3,379.3 78.4,375.7 78.5,380.6 78.7,389.1 78.8,387.3 79.0,378.7 79.1,383.1 79.3,377.5 79.4,381.3 79.6,385.8 79.7,378.5 79.8,386.5 80.0,391.8 80.1,375.2 80.3,391.2 80.4,380.6 80.6,379.1 80.7,382.1 80.9,389.5 81.0,378.0 81.2,388.1 81.3,387.4 81.4,383.1 81.6,378.0 81.7,379.9 81.9,377.5 82.0,382.6 82.2,381.2 82.3,385.1 82.5,381.4 82.6,377.2 82.8,380.7 82.9,376.7 83.0,380.7 83.2,380.3 83.3,376.9 83.5,377.4 83.6,373.3 83.8,374.6 83.9,367.0 84.1,375.3 84.2,374.7 84.4,377.9 84.5,372.5 84.6,368.8 84.8,374.9 84.9,371.1 85.1,366.9 85.2,370.3 85.4,371.9 85.5,364.4 85.7,368.3 85.8,366.5 86.0,362.4 86.1,362.2 86.2,369.1 86.4,369.7 86.5,365.4 86.7,367.1 86.8,375.4 87.0,359.5 87.1,365.3 87.3,361.5 87.4,370.6 87.6,358.0 87.7,367.1 87.8,364.3 88.0,370.5 88.1,364.0 88.3,364.0 88.4,363.4 88.6,359.9 88.7,361.5 88.9,356.5 89.0,363.5 89.2,365.9 89.3,360.6 89.4,356.9 89.6,353.4 89.7,355.4 89.9,368.5 90.0,357.2 90.2,351.3 90.3,358.3 90.5,361.1 90.6,356.5 90.7,360.6 90.9,354.3 91.0,357.5 91.2,349.9 91.3,354.3 91.5,360.6 91.6,353.3 91.8,351.3 91.9,359.0 92.1,358.1 92.2,367.3 92.3,350.5 92.5,358.2 92.6,366.2 92.8,364.1 92.9,355.6 93.1,350.0 93.2,354.4 93.4,351.7 93.5,360.4 93.7,362.0 93.8,350.4 93.9,352.8 94.1,355.9 94.2,349.3 94.4,361.5 94.5,359.0 94.7,351.6 94.8,347.7 95.0,357.6 95.1,349.2 95.3,361.5 95.4,356.9 95.5,359.9 95.7,367.5 95.8,358.3 96.0,355.1 96.1,361.0 96.3,360.9 96.4,353.7 96.6,367.6 96.7,369.1 96.9,365.1 97.0,368.2 97.1,355.6 97.3,361.2 97.4,367.4 97.6,366.4 97.7,348.8 97.9,367.0 98.0,368.1 98.2,363.1 98.3,361.7 98.5,364.1 98.6,370.0 98.7,371.5 98.9,363.2 99.0,366.7 99.2,374.8 99.3,361.4 99.5,363.6 99.6,368.8 99.8,369.2 99.9,367.2 100.1,371.9 100.2,375.4 100.3,367.7 100.5,376.4 100.6,368.0 100.8,377.0 100.9,370.9 101.1,371.4 101.2,362.7 101.4,376.1 101.5,377.8 101.6,374.2 101.8,376.5 101.9,374.1 102.1,369.4 102.2,367.8 102.4,363.7 102.5,374.9 102.7,361.3 102.8,362.3 103.0,372.6 103.1,382.0 103.2,372.1 103.4,371.4 103.5,382.1 103.7,371.5 103.8,372.9 104.0,375.6 104.1,369.1 104.3,367.4 104.4,374.4 104.6,371.1 104.7,375.3 104.8,375.9 105.0,371.9 105.1,369.9 105.3,374.9 105.4,382.2 105.6,369.0 105.7,378.9 105.9,370.6 106.0,362.6 106.2,370.7 106.3,376.0 106.4,377.1 106.6,364.3 106.7,369.7 106.9,366.8 107.0,364.7 107.2,369.1 107.3,370.0 107.5,372.7 107.6,378.2 107.8,374.3 107.9,366.7 108.0,366.6 108.2,363.2 108.3,365.2 108.5,363.2 108.6,359.4 108.8,367.2 108.9,363.5 109.1,369.4 109.2,355.4 109.4,359.4 109.5,356.2 109.6,349.8 109.8,351.4 109.9,356.6 110.1,351.2 110.2,362.3 110.4,351.4 110.5,352.2 110.7,361.0 110.8,344.0 111.0,354.4 111.1,345.9 111.2,351.2 111.4,342.4 111.5,339.8 111.7,351.1 111.8,353.9 112.0,344.2 112.1,336.7 112.3,342.2 112.4,342.0 112.5,333.7 112.7,348.3 112.8,337.3 113.0,340.1 113.1,328.0 113.3,332.8 113.4,333.6 113.6,327.1 113.7,332.3 113.9,320.9 114.0,323.3 114.1,319.3 114.3,319.6 114.4,306.5 114.6,311.5 114.7,305.1 114.9,303.4 115.0,310.4 115.2,298.6 115.3,298.2 115.5,297.1 115.6,301.5 115.7,301.0 115.9,291.4 116.0,280.5 116.2,301.7 116.3,291.0 116.5,283.0 116.6,287.7 116.8,289.5 116.9,284.9 117.1,309.5 117.2,298.3 117.3,301.7 117.5,295.8 117.6,300.9 117.8,300.9 117.9,291.8 118.1,283.5 118.2,313.9 118.4,300.8 118.5,296.8 118.7,299.6 118.8,304.0 118.9,313.0 119.1,311.9 119.2,302.0 119.4,301.5 119.5,310.1 119.7,318.3 119.8,313.8 120.0,317.9 120.1,314.6 120.3,319.3 120.4,325.9 120.5,322.5 120.7,333.1 120.8,322.2 121.0,321.6 121.1,338.0 121.3,328.7 121.4,339.9 121.6,328.9 121.7,331.5 121.9,339.9 122.0,334.2 122.1,344.2 122.3,347.0 122.4,348.2 122.6,347.3 122.7,349.9 122.9,348.8 123.0,354.6 123.2,348.2 123.3,348.0 123.4,357.3 123.6,363.4 123.7,353.1 123.9,352.1 124.0,360.1 124.2,367.0 124.3,360.2 124.5,355.0 124.6,373.2 124.8,362.6 124.9,367.7 125.0,371.4 125.2,366.0 125.3,375.1 125.5,367.9 125.6,363.5 125.8,369.3 125.9,374.7 126.1,379.4 126.2,377.4 126.4,380.5 126.5,364.9 126.6,373.9 126.8,378.0 126.9,379.6 127.1,378.9 127.2,376.0 127.4,380.7 127.5,367.8 127.7,379.1 127.8,379.7 128.0,375.3 128.1,370.7 128.2,371.7 128.4,380.1 128.5,377.3 128.7,378.2 128.8,377.0 129.0,378.6 129.1,384.1 129.3,385.8 129.4,379.8 129.6,385.7 129.7,375.1 129.8,380.8 130.0,385.5 130.1,382.7 130.3,383.6 130.4,382.2 130.6,377.8 130.7,388.0 130.9,389.9 131.0,380.9 131.2,383.2 131.3,381.9 131.4,380.9 131.6,383.6 131.7,379.7 131.9,386.9 132.0,383.1 132.2,386.9 132.3,388.3 132.5,381.3 132.6,381.7 132.8,392.0 132.9,388.8 133.0,383.3 133.2,380.3 133.3,387.4 133.5,385.6 133.6,390.7 133.8,376.4 133.9,383.5 134.1,382.0 134.2,383.1 134.3,382.1 134.5,383.6 134.6,387.5 134.8,383.4 134.9,386.1 135.1,381.5 135.2,389.7 135.4,389.0 135.5,384.4 135.7,382.1 135.8,386.6 135.9,390.1 136.1,387.9 136.2,389.4 136.4,380.2 136.5,384.2 136.7,382.9 136.8,386.3 137.0,390.1 137.1,383.5 137.3,381.8 137.4,386.0 137.5,388.4 137.7,384.3 137.8,389.9 138.0,385.7 138.1,391.4 138.3,392.5 138.4,386.7 138.6,387.7 138.7,381.8 138.9,390.2 139.0,389.2 139.1,393.6 139.3,396.5 139.4,396.2 139.6,387.9 139.7,394.1 139.9,385.6 140.0,384.6 140.2,391.1 140.3,383.9 140.5,389.3 140.6,386.1 140.7,391.2 140.9,386.9 141.0,394.0 141.2,388.3 141.3,392.4 141.5,391.3 141.6,388.6 141.8,390.4 141.9,391.4 142.1,388.5 142.2,388.3 142.3,396.4 142.5,389.4 142.6,389.1 142.8,394.3 142.9,390.2 143.1,396.5 143.2,386.5 143.4,392.7 143.5,392.1 143.7,387.5 143.8,392.4 143.9,389.8 144.1,395.8 144.2,394.1 144.4,397.2 144.5,392.9 144.7,388.5 144.8,391.4 145.0,389.1 145.1,396.0 145.2,395.6 145.4,394.1 145.5,390.4 145.7,391.2 145.8,392.6 146.0,390.4 146.1,393.2 146.3,392.8 146.4,388.1 146.6,394.9 146.7,392.2 146.8,387.1 147.0,392.6 147.1,390.5 147.3,395.2 147.4,386.1 147.6,401.0 147.7,397.2 147.9,397.0 148.0,387.5 148.2,392.1 148.3,394.3 148.4,398.0 148.6,392.2 148.7,393.1 148.9,396.0 149.0,398.9 149.2,397.5 149.3,392.9 149.5,392.6 149.6,393.5 149.8,394.4 149.9,400.1 150.0,393.7 150.2,397.5 150.3,393.8 150.5,392.3 150.6,396.4 150.8,397.6 150.9,390.5 151.1,392.8 151.2,396.3 151.4,401.8 151.5,394.3 151.6,391.9 151.8,390.2 151.9,396.6 152.1,396.5 152.2,395.8 152.4,391.3 152.5,398.4 152.7,394.7 152.8,397.6 153.0,393.4 153.1,399.8 153.2,393.1 153.4,396.2 153.5,395.2 153.7,392.6 153.8,390.5 154.0,400.4 154.1,391.0 154.3,392.6 154.4,395.6 154.6,388.0 154.7,394.0 154.8,390.2 155.0,396.7 155.1,397.7 155.3,390.5 155.4,387.2 155.6,392.6 155.7,391.7 155.9,396.5 156.0,399.4 156.1,395.6 156.3,389.7 156.4,401.3 156.6,396.6 156.7,401.6 156.9,394.6 157.0,392.0 157.2,399.3 157.3,396.5 157.5,390.5 157.6,395.4 157.7,399.4 157.9,399.7 158.0,402.1 158.2,392.5 158.3,397.8 158.5,391.6 158.6,392.3 158.8,397.5 158.9,397.1 159.1,392.7 159.2,394.8 159.3,394.5 159.5,401.0 159.6,391.3 159.8,398.4 159.9,403.0 160.1,397.6 160.2,394.1 160.4,388.4 160.5,396.8 160.7,400.1 160.8,388.4 160.9,395.1 161.1,396.5 161.2,399.3 161.4,399.1 161.5,390.7 161.7,396.7 161.8,397.6 162.0,397.5 162.1,390.5 162.3,397.8 162.4,393.7 162.5,395.0 162.7,395.1 162.8,398.9 163.0,393.7 163.1,390.5 163.3,396.2 163.4,399.1 163.6,400.4 163.7,395.4 163.9,397.0 164.0,396.5 164.1,396.1 164.3,401.1 164.4,393.5 164.6,395.4 164.7,396.5 164.9,395.5 165.0,393.2 165.2,396.2 165.3,399.3 165.5,392.5 165.6,398.0 165.7,399.0 165.9,401.8 166.0,396.6 166.2,400.2 166.3,398.4 166.5,395.2 166.6,396.7 166.8,393.4 166.9,395.8 167.0,398.2 167.2,398.0 167.3,398.7 167.5,394.9 167.6,397.0 167.8,398.5 167.9,394.3 168.1,396.9 168.2,398.8 168.4,402.3 168.5,395.8 168.6,396.5 168.8,397.2 168.9,398.8 169.1,400.2 169.2,398.2 169.4,396.8 169.5,398.1 169.7,398.1 169.8,399.2 170.0,396.6 170.1,397.0 170.2,400.2 170.4,395.3 170.5,395.3 170.7,395.2 170.8,398.4 171.0,398.6 171.1,403.1 171.3,395.6 171.4,405.0 171.6,399.4 171.7,399.3 171.8,395.4 172.0,398.2 172.1,401.4 172.3,402.9 172.4,400.7 172.6,398.1 172.7,398.3 172.9,399.1 173.0,400.7 173.2,399.2 173.3,395.4 173.4,402.2 173.6,398.6 173.7,393.5 173.9,397.0 174.0,400.3 174.2,396.7 174.3,401.3 174.5,398.9 174.6,394.0 174.8,390.8 174.9,404.5 175.0,396.8 175.2,392.9 175.3,400.9 175.5,398.4 175.6,394.4 175.8,400.8 175.9,397.9 176.1,399.5 176.2,405.5 176.4,398.3 176.5,400.1 176.6,396.6 176.8,392.9 176.9,397.4 177.1,400.8 177.2,398.3 177.4,399.1 177.5,396.5 177.7,404.3 177.8,403.5 177.9,406.3 178.1,398.0 178.2,400.0 178.4,402.0 178.5,402.3 178.7,401.9 178.8,403.0 179.0,401.1 179.1,401.7 179.3,395.9 179.4,399.3 179.5,402.8 179.7,402.1 179.8,396.7 180.0,399.0 180.1,399.5 180.3,398.3 180.4,395.6 180.6,404.3 180.7,402.9 180.9,406.0 181.0,399.1 181.1,401.9 181.3,402.8 181.4,403.1 181.6,398.7 181.7,401.3 181.9,402.5 182.0,397.1 182.2,404.2 182.3,404.9 182.5,394.3 182.6,402.2 182.7,402.8 182.9,403.4 183.0,401.6 183.2,398.8 183.3,399.0 183.5,399.6 183.6,402.2 183.8,405.9 183.9,400.6 184.1,396.9 184.2,398.2 184.3,402.0 184.5,399.1 184.6,402.8 184.8,401.8 184.9,405.4 185.1,402.7 185.2,401.3 185.4,402.3 185.5,399.5 185.7,396.2 185.8,397.9 185.9,402.8 186.1,404.1 186.2,403.9 186.4,405.0 186.5,401.9 186.7,400.4 186.8,401.6 187.0,401.6 187.1,401.8 187.3,402.6 187.4,404.5 187.5,397.2 187.7,399.3 187.8,405.1 188.0,406.1 188.1,404.2 188.3,402.4 188.4,398.8 188.6,399.6 188.7,399.5 188.8,399.5 189.0,399.5 189.1,400.6 189.3,401.4 189.4,403.2 189.6,407.9 189.7,403.3 189.9,397.7 190.0,404.5 190.2,404.8 190.3,400.1 190.4,402.8 190.6,404.5 190.7,398.6 190.9,400.7 191.0,401.0 191.2,404.9 191.3,401.9 191.5,402.2 191.6,401.1 191.8,400.1 191.9,400.2 192.0,403.0 192.2,401.5 192.3,406.8 192.5,401.7 192.6,401.7 192.8,404.8 192.9,405.9 193.1,403.9 193.2,407.2 193.4,402.8 193.5,403.0 193.6,406.6 193.8,403.8 193.9,400.9 194.1,401.0 194.2,401.2 194.4,404.5 194.5,405.1 194.7,405.2 194.8,402.5 195.0,398.0 195.1,400.3 195.2,399.8 195.4,400.5 195.5,408.9 195.7,405.0 195.8,405.7 196.0,401.0 196.1,399.8 196.3,406.4 196.4,404.5 196.6,403.1 196.7,406.0 196.8,406.4 197.0,406.6 197.1,402.3 197.3,407.3 197.4,401.7 197.6,404.6 197.7,402.8 197.9,400.6 198.0,406.8 198.2,407.2 198.3,403.8 198.4,407.9 198.6,407.1 198.7,405.4 198.9,404.7 199.0,408.5 199.2,406.2 199.3,403.6 199.5,401.5 199.6,410.6 199.7,401.7 199.9,402.9 200.0,408.3 200.2,409.3 200.3,404.2 200.5,406.5 200.6,405.0 200.8,402.3 200.9,406.5 201.1,405.0 201.2,404.2 201.3,403.1 201.5,400.8 201.6,401.0 201.8,405.0 201.9,406.3 202.1,399.7 202.2,404.0 202.4,404.6 202.5,408.7 202.7,403.7 202.8,407.9 202.9,407.1 203.1,409.4 203.2,407.3 203.4,405.7 203.5,409.9 203.7,408.4 203.8,406.2 204.0,409.4 204.1,409.4 204.3,408.3 204.4,409.8 204.5,404.5 204.7,408.8 204.8,404.1 205.0,403.8 205.1,409.4 205.3,406.1 205.4,407.5 205.6,409.3 205.7,407.2 205.9,407.0 206.0,404.5 206.1,403.7 206.3,409.3 206.4,407.5 206.6,405.1 206.7,403.4 206.9,412.3 207.0,403.2 207.2,407.0 207.3,402.6 207.5,407.8 207.6,408.9 207.7,406.6 207.9,403.7 208.0,406.7 208.2,412.5 208.3,405.0 208.5,411.0 208.6,409.4 208.8,409.9 208.9,411.7 209.1,410.2 209.2,409.5 209.3,408.6 209.5,407.2 209.6,407.9 209.8,410.9 209.9,407.6 210.1,404.6 210.2,404.7 210.4,406.8 210.5,405.6 210.6,404.9 210.8,403.8 210.9,402.9 211.1,408.1 211.2,408.0 211.4,403.6 211.5,403.4 211.7,403.5 211.8,413.1 212.0,408.0 212.1,415.1 212.2,405.7 212.4,407.4 212.5,407.4 212.7,408.0 212.8,404.3 213.0,408.4 213.1,405.1 213.3,406.3 213.4,406.8 213.6,406.6 213.7,407.5 213.8,410.6 214.0,406.0 214.1,406.1 214.3,408.3 214.4,406.1 214.6,405.7 214.7,411.2 214.9,408.4 215.0,409.1 215.2,410.3 215.3,407.3 215.4,410.2 215.6,409.2 215.7,407.5 215.9,407.3 216.0,407.4 216.2,402.7 216.3,409.5 216.5,407.6 216.6,411.3 216.8,407.1 216.9,405.4 217.0,405.3 217.2,409.9 217.3,409.1 217.5,405.3 217.6,408.6 217.8,406.1 217.9,410.9 218.1,405.1 218.2,406.0 218.4,407.4 218.5,410.5 218.6,409.0 218.8,408.2 218.9,408.0 219.1,408.9 219.2,409.2 219.4,408.2 219.5,405.3 219.7,413.6 219.8,412.1 220.0,412.5 220.1,410.5 220.2,413.0 220.4,407.5 220.5,408.5 220.7,409.5 220.8,410.5 221.0,408.5 221.1,408.5 221.3,408.1 221.4,410.7 221.5,406.9 221.7,412.6 221.8,406.0 222.0,414.4 222.1,410.5 222.3,412.0 222.4,407.2 222.6,412.7 222.7,404.8 222.9,412.9 223.0,404.3 223.1,408.1 223.3,409.2 223.4,408.2 223.6,404.0 223.7,407.2 223.9,414.6 224.0,406.5 224.2,408.8 224.3,413.3 224.5,407.0 224.6,412.3 224.7,409.0 224.9,408.9 225.0,411.0 225.2,408.0 225.3,412.0 225.5,409.1 225.6,410.9 225.8,410.0 225.9,405.1 226.1,409.4 226.2,412.2 226.3,410.0 226.5,411.5 226.6,409.7 226.8,409.4 226.9,409.6 227.1,409.6 227.2,411.1 227.4,408.8 227.5,407.4 227.7,411.8 227.8,410.0 227.9,409.8 228.1,407.0 228.2,407.4 228.4,411.7 228.5,409.8 228.7,414.7 228.8,412.3 229.0,410.0 229.1,408.6 229.3,407.9 229.4,410.9 229.5,413.3 229.7,409.3 229.8,410.6 230.0,409.2 230.1,409.9 230.3,408.6 230.4,408.8 230.6,408.4 230.7,411.4 230.9,408.1 231.0,411.5 231.1,410.2 231.3,406.1 231.4,409.6 231.6,413.1 231.7,407.1 231.9,408.2 232.0,407.9 232.2,410.1 232.3,409.8 232.4,411.1 232.6,412.2 232.7,407.1 232.9,411.5 233.0,411.8 233.2,411.7 233.3,406.5 233.5,408.7 233.6,411.6 233.8,410.8 233.9,409.6 234.0,408.8 234.2,414.4 234.3,408.7 234.5,411.3 234.6,412.4 234.8,411.7 234.9,409.0 235.1,406.9 235.2,410.5 235.4,409.6 235.5,412.7 235.6,409.8 235.8,409.0 235.9,414.2 236.1,412.1 236.2,409.2 236.4,414.9 236.5,411.8 236.7,409.6 236.8,414.7 237.0,411.9 237.1,410.9 237.2,409.0 237.4,413.9 237.5,408.5 237.7,410.3 237.8,408.4 238.0,408.5 238.1,410.3 238.3,410.0 238.4,415.0 238.6,414.1 238.7,413.3 238.8,411.9 239.0,409.1 239.1,415.1 239.3,411.9 239.4,414.1 239.6,414.6 239.7,407.9 239.9,411.0 240.0,407.6 240.2,408.6 240.3,413.3 240.4,415.3 240.6,406.7 240.7,412.1 240.9,413.8 241.0,409.7 241.2,411.0 241.3,412.8 241.5,412.1 241.6,411.0 241.8,411.2 241.9,409.7 242.0,412.1 242.2,412.1 242.3,410.0 242.5,410.7 242.6,409.0 242.8,411.9 242.9,411.6 243.1,414.0 243.2,408.1 243.3,414.5 243.5,411.0 243.6,413.4 243.8,410.7 243.9,409.9 244.1,415.1 244.2,412.0 244.4,415.3 244.5,408.5 244.7,412.5 244.8,415.0 244.9,413.1 245.1,408.7 245.2,408.3 245.4,408.8 245.5,413.3 245.7,411.9 245.8,408.1 246.0,413.2 246.1,412.4 246.3,414.4 246.4,414.2 246.5,409.1 246.7,410.3 246.8,410.4 247.0,410.5 247.1,409.5 247.3,408.5 247.4,411.8 247.6,412.5 247.7,414.0 247.9,409.4 248.0,412.9 248.1,415.0 248.3,412.4 248.4,411.8 248.6,410.0 248.7,409.7 248.9,413.4 249.0,413.6 249.2,412.6 249.3,415.4 249.5,412.1 249.6,410.9 249.7,411.8 249.9,415.4 250.0,414.5 250.2,409.2 250.3,414.1 250.5,410.4 250.6,410.6 250.8,412.7 250.9,414.1 251.1,411.6 251.2,413.9 251.3,412.4 251.5,411.8 251.6,413.6 251.8,412.5 251.9,412.7 252.1,414.7 252.2,412.5 252.4,413.5 252.5,416.0 252.7,412.8 252.8,412.7 252.9,413.4 253.1,416.5 253.2,410.5 253.4,410.7 253.5,410.8 253.7,411.5 253.8,415.8 254.0,412.0 254.1,414.2 254.2,407.6 254.4,413.3 254.5,410.9 254.7,415.5 254.8,414.8 255.0,413.4 255.1,410.8 255.3,411.2 255.4,411.7 255.6,416.2 255.7,410.0 255.8,414.3 256.0,409.0 256.1,408.5 256.3,410.7 256.4,410.3 256.6,415.0 256.7,407.8 256.9,412.0 257.0,410.4 257.2,414.2 257.3,412.6 257.4,414.9 257.6,413.0 257.7,412.5 257.9,412.0 258.0,409.6 258.2,411.5 258.3,411.8 258.5,412.5 258.6,408.4 258.8,413.8 258.9,410.1 259.0,416.6 259.2,414.4 259.3,411.8 259.5,412.9 259.6,408.1 259.8,408.1 259.9,415.8 260.1,414.9 260.2,413.0 260.4,409.1 260.5,410.4 260.6,412.0 260.8,415.6 260.9,414.5 261.1,417.3 261.2,415.9 261.4,411.9 261.5,411.1 261.7,415.4 261.8,412.6 262.0,408.3 262.1,412.5 262.2,413.4 262.4,411.6 262.5,411.8 262.7,412.7 262.8,413.9 263.0,413.7 263.1,412.7 263.3,414.0 263.4,410.2 263.6,411.1 263.7,410.7 263.8,408.8 264.0,409.7 264.1,410.1 264.3,412.2 264.4,413.4 264.6,408.5 264.7,414.4 264.9,414.3 265.0,414.8 265.1,412.6 265.3,412.2 265.4,411.0 265.6,413.5 265.7,416.6 265.9,412.4 266.0,411.1 266.2,413.0 266.3,413.4 266.5,412.0 266.6,410.2 266.7,413.3 266.9,416.0 267.0,414.3 267.2,413.5 267.3,416.8 267.5,411.7 267.6,414.7 267.8,412.2 267.9,412.8 268.1,413.9 268.2,410.0 268.3,414.4 268.5,414.6 268.6,412.7 268.8,411.6 268.9,413.3 269.1,415.3 269.2,411.9 269.4,412.1 269.5,409.2 269.7,413.8 269.8,412.9 269.9,414.5 270.1,416.3 270.2,413.2 270.4,411.7 270.5,415.4 270.7,414.7 270.8,415.7 271.0,410.8 271.1,414.7 271.3,412.3 271.4,415.1 271.5,413.3 271.7,414.7 271.8,419.3 272.0,413.3 272.1,412.4 272.3,417.6 272.4,413.8 272.6,414.3 272.7,415.6 272.9,414.0 273.0,417.3 273.1,413.0 273.3,411.2 273.4,416.0 273.6,413.6 273.7,410.7 273.9,413.3 274.0,414.5 274.2,415.3 274.3,413.2 274.5,413.8 274.6,412.3 274.7,416.5 274.9,411.4 275.0,414.4 275.2,412.3 275.3,415.0 275.5,416.1 275.6,414.7 275.8,415.5 275.9,414.3 276.0,412.3 276.2,411.5 276.3,413.2 276.5,414.7 276.6,414.5 276.8,412.5 276.9,411.4 277.1,414.3 277.2,413.9 277.4,415.1 277.5,413.2 277.6,411.8 277.8,418.0 277.9,413.2 278.1,414.7 278.2,418.0 278.4,413.1 278.5,413.9 278.7,413.0 278.8,416.4 279.0,409.5 279.1,413.5 279.2,414.4 279.4,410.8 279.5,412.5 279.7,412.1 279.8,411.5 280.0,417.8 280.1,410.5 280.3,414.4 280.4,413.2 280.6,412.0 280.7,415.1 280.8,413.2 281.0,412.3 281.1,413.9 281.3,412.8 281.4,416.9 281.6,416.1 281.7,416.0 281.9,413.1 282.0,409.6 282.2,413.3 282.3,414.1 282.4,414.0 282.6,411.9 282.7,412.5 282.9,416.1 283.0,411.9 283.2,413.9 283.3,412.3 283.5,417.7 283.6,417.9 283.8,412.7 283.9,417.3 284.0,413.1 284.2,413.2 284.3,413.6 284.5,413.2 284.6,413.4 284.8,413.1 284.9,414.7 285.1,414.0 285.2,409.7 285.4,411.8 285.5,412.8 285.6,413.2 285.8,415.3 285.9,413.5 286.1,414.4 286.2,412.2 286.4,415.7 286.5,418.2 286.7,415.1 286.8,412.7 286.9,409.8 287.1,412.0 287.2,415.9 287.4,414.4 287.5,415.8 287.7,414.4 287.8,415.7 288.0,417.2 288.1,413.2 288.3,413.7 288.4,414.4 288.5,413.4 288.7,410.2 288.8,413.8 289.0,414.8 289.1,412.4 289.3,417.2 289.4,412.6 289.6,415.6 289.7,415.6 289.9,413.9 290.0,410.9 290.1,415.5 290.3,412.3 290.4,413.4 290.6,416.8 290.7,412.4 290.9,415.7 291.0,416.9 291.2,415.6 291.3,415.5 291.5,413.0 291.6,415.5 291.7,411.3 291.9,413.8 292.0,415.5 292.2,415.8 292.3,413.8 292.5,418.0 292.6,418.3 292.8,415.9 292.9,413.0 293.1,413.9 293.2,414.2 293.3,414.6 293.5,418.3 293.6,414.8 293.8,417.6 293.9,412.7 294.1,414.3 294.2,414.4 294.4,413.5 294.5,413.7 294.7,413.8 294.8,413.6 294.9,415.4 295.1,416.8 295.2,413.7 295.4,411.6 295.5,412.4 295.7,414.7 295.8,413.2 296.0,415.1 296.1,413.6 296.3,415.5 296.4,414.1 296.5,410.6 296.7,412.9 296.8,411.5 297.0,415.8 297.1,415.6 297.3,414.4 297.4,413.3 297.6,414.8 297.7,412.5 297.8,415.4 298.0,411.9 298.1,412.6 298.3,416.5 298.4,413.3 298.6,414.8 298.7,412.5 298.9,415.4 299.0,413.9 299.2,413.4 299.3,418.5 299.4,417.9 299.6,414.2 299.7,414.7 299.9,412.6 300.0,414.0 300.2,416.8 300.3,413.9 300.5,415.9 300.6,414.9 300.8,415.4 300.9,413.9 301.0,417.1 301.2,416.6 301.3,418.6 301.5,410.6 301.6,417.0 301.8,416.1 301.9,416.7 302.1,415.7 302.2,415.4 302.4,413.4 302.5,414.2 302.6,414.0 302.8,415.7 302.9,414.7 303.1,412.3 303.2,414.6 303.4,414.0 303.5,418.3 303.7,413.6 303.8,414.1 304.0,412.2 304.1,418.7 304.2,414.6 304.4,414.9 304.5,414.5 304.7,415.8 304.8,414.3 305.0,413.4 305.1,414.6 305.3,415.2 305.4,415.1 305.6,415.4 305.7,414.6 305.8,416.0 306.0,418.4 306.1,412.2 306.3,417.9 306.4,415.0 306.6,417.1 306.7,415.3 306.9,416.5 307.0,414.8 307.2,416.3 307.3,417.1 307.4,414.2 307.6,412.4 307.7,414.2 307.9,414.6 308.0,416.7 308.2,415.0 308.3,414.0 308.5,416.0 308.6,413.2 308.7,414.9 308.9,414.2 309.0,415.8 309.2,415.8 309.3,414.5 309.5,414.2 309.6,414.3 309.8,416.7 309.9,416.2 310.1,415.0 310.2,418.3 310.3,413.0 310.5,414.4 310.6,414.9 310.8,416.2 310.9,413.5 311.1,415.5 311.2,411.5 311.4,414.3 311.5,417.7 311.7,413.7 311.8,415.9 311.9,415.9 312.1,415.4 312.2,415.2 312.4,414.6 312.5,413.6 312.7,414.2 312.8,416.3 313.0,417.5 313.1,416.5 313.3,414.4 313.4,413.5 313.5,411.8 313.7,417.5 313.8,414.9 314.0,415.5 314.1,415.8 314.3,414.8 314.4,415.5 314.6,415.6 314.7,416.3 314.9,414.4 315.0,413.2 315.1,412.2 315.3,416.1 315.4,417.0 315.6,415.6 315.7,416.6 315.9,413.3 316.0,416.6 316.2,415.0 316.3,417.6 316.5,415.8 316.6,414.8 316.7,412.5 316.9,416.4 317.0,414.5 317.2,418.9 317.3,417.3 317.5,416.7 317.6,416.1 317.8,414.5 317.9,414.1 318.1,418.1 318.2,414.3 318.3,417.2 318.5,412.0 318.6,414.7 318.8,415.0 318.9,415.6 319.1,415.3 319.2,415.3 319.4,416.5 319.5,414.0 319.6,414.8 319.8,414.0 319.9,415.4 320.1,414.1 320.2,416.7 320.4,411.3 320.5,416.6 320.7,416.1 320.8,413.6 321.0,413.2 321.1,416.7 321.2,418.3 321.4,417.8 321.5,417.1 321.7,416.7 321.8,415.7 322.0,413.6 322.1,413.5 322.3,416.5 322.4,414.5 322.6,413.9 322.7,412.9 322.8,415.7 323.0,416.7 323.1,414.1 323.3,412.8 323.4,416.4 323.6,412.0 323.7,412.4 323.9,415.9 324.0,418.2 324.2,416.5 324.3,416.1"/>
<text x="65.70" y="280.10" font-family='"Liberation Serif", "DejaVu Serif", serif' font-size="21.6" font-weight="bold" text-anchor="middle" fill="#1a1a1a" stroke="#1a1a1a" stroke-width="0.3" >C</text>
<text transform="translate(23.6,353.7) rotate(-90)" font-family='"Liberation Serif", "DejaVu Serif", serif' font-size="9.4" font-weight="bold" text-anchor="middle" fill="#1a1a1a" stroke="#1a1a1a" stroke-width="0.22" textLength="38.8" lengthAdjust="spacingAndGlyphs">Intensity</text>
<text x="151.7" y="465.8" font-family='"Liberation Serif", "DejaVu Serif", serif' font-size="9.6" font-weight="bold" fill="#1a1a1a" stroke="#1a1a1a" stroke-width="0.22" textLength="72.5" lengthAdjust="spacingAndGlyphs">2-Theta degree</text>
<defs>
<linearGradient id="dg" x1="0" y1="0" x2="1" y2="0"><stop offset="0" stop-color="#585858"/><stop offset="0.14" stop-color="#666666"/><stop offset="0.3" stop-color="#7a7a7a"/><stop offset="0.55" stop-color="#8a8a8a"/><stop offset="0.8" stop-color="#9c9c9c"/><stop offset="1" stop-color="#989898"/></linearGradient>
<filter id="grain" x="0" y="0" width="100%" height="100%" filterUnits="objectBoundingBox" color-interpolation-filters="sRGB"><feTurbulence type="fractalNoise" baseFrequency="0.55" numOctaves="2" seed="5" result="n"/><feColorMatrix in="n" type="matrix" values="1 0 0 0 0  1 0 0 0 0  1 0 0 0 0  0 0 0 0 1" result="g0"/><feGaussianBlur in="g0" stdDeviation="0.1" result="g"/><feComposite in="SourceGraphic" in2="g" operator="arithmetic" k1="0" k2="1" k3="0.84" k4="-0.42"/></filter>
<filter id="soft" x="-5%" y="-5%" width="110%" height="110%"><feGaussianBlur stdDeviation="0.7"/></filter>
<filter id="soft2" x="-5%" y="-5%" width="110%" height="110%"><feGaussianBlur stdDeviation="0.85"/></filter>
<filter id="soft3" x="-20%" y="-20%" width="140%" height="140%"><feGaussianBlur stdDeviation="5"/></filter>
<clipPath id="dclip"><rect x="400.7" y="256.1" width="265.4" height="204.0"/></clipPath>
</defs>
<g clip-path="url(#dclip)"><g filter="url(#grain)">
<rect x="400.7" y="256.1" width="265.4" height="204.0" fill="url(#dg)"/>
<ellipse cx="568.0" cy="308.0" rx="13.0" ry="22.0" fill="#181818" opacity="0.45" transform="rotate(15 568.0 308.0)" filter="url(#soft3)"/>
<ellipse cx="562.0" cy="330.0" rx="11.0" ry="9.0" fill="#181818" opacity="0.35" transform="rotate(0 562.0 330.0)" filter="url(#soft3)"/>
<ellipse cx="626.0" cy="369.0" rx="9.0" ry="8.0" fill="#181818" opacity="0.55" transform="rotate(0 626.0 369.0)" filter="url(#soft3)"/>
<ellipse cx="657.0" cy="306.0" rx="7.0" ry="12.0" fill="#181818" opacity="0.50" transform="rotate(0 657.0 306.0)" filter="url(#soft3)"/>
<ellipse cx="520.0" cy="383.0" rx="12.0" ry="5.0" fill="#202020" opacity="0.45" transform="rotate(0 520.0 383.0)" filter="url(#soft3)"/>
<ellipse cx="566.0" cy="448.0" rx="16.0" ry="8.0" fill="#202020" opacity="0.45" transform="rotate(0 566.0 448.0)" filter="url(#soft3)"/>
<ellipse cx="536.0" cy="452.0" rx="10.0" ry="8.0" fill="#181818" opacity="0.45" transform="rotate(0 536.0 452.0)" filter="url(#soft3)"/>
<ellipse cx="425.0" cy="445.0" rx="30.0" ry="16.0" fill="#202020" opacity="0.40" transform="rotate(0 425.0 445.0)" filter="url(#soft3)"/>
<ellipse cx="470.0" cy="410.0" rx="30.0" ry="22.0" fill="#303030" opacity="0.22" transform="rotate(0 470.0 410.0)" filter="url(#soft3)"/>
<ellipse cx="415.0" cy="380.0" rx="18.0" ry="40.0" fill="#303030" opacity="0.18" transform="rotate(0 415.0 380.0)" filter="url(#soft3)"/>
<ellipse cx="630.0" cy="290.0" rx="24.0" ry="20.0" fill="#d0d0d0" opacity="0.30" transform="rotate(0 630.0 290.0)" filter="url(#soft3)"/>
<ellipse cx="610.0" cy="420.0" rx="30.0" ry="22.0" fill="#c0c0c0" opacity="0.18" transform="rotate(0 610.0 420.0)" filter="url(#soft3)"/>
<ellipse cx="510.0" cy="310.0" rx="22.0" ry="18.0" fill="#b0b0b0" opacity="0.22" transform="rotate(0 510.0 310.0)" filter="url(#soft3)"/>
<ellipse cx="500.0" cy="420.0" rx="25.0" ry="20.0" fill="#a8a8a8" opacity="0.18" transform="rotate(0 500.0 420.0)" filter="url(#soft3)"/>
<g fill="none" stroke="#101010" stroke-linecap="round" filter="url(#soft)"><path d="M449.9 256.0C449.0 258.2 446.3 264.3 444.5 269.0C442.7 273.7 440.6 279.2 439.1 284.2C437.6 289.3 436.4 294.4 435.4 299.4C434.4 304.5 433.5 309.9 433.0 314.6C432.5 319.3 432.1 323.7 432.6 327.6C433.0 331.6 434.4 334.9 435.8 338.5C437.3 342.1 439.6 346.1 441.3 349.4C442.9 352.6 444.1 354.4 445.6 358.0C447.0 361.7 447.8 367.1 449.9 371.0C452.1 375.0 455.7 378.3 458.6 381.9C461.5 385.5 465.5 388.8 467.3 392.7C469.1 396.7 469.7 401.4 469.5 405.8C469.3 410.1 467.5 414.8 466.2 418.8C465.0 422.8 463.1 425.3 461.9 429.6C460.6 434.0 459.5 439.8 458.6 444.8C457.8 449.9 457.2 457.5 456.9 460.0" stroke-width="2.8" opacity="0.44"/><path d="M532.0 262.5C528.1 264.0 516.1 268.8 508.6 271.2C501.0 273.5 493.0 274.5 486.8 276.6C480.7 278.8 475.8 281.1 471.6 284.2C467.5 287.3 464.4 291.1 461.9 295.1C459.3 299.1 457.9 303.8 456.4 308.1C455.0 312.4 453.4 317.2 453.2 321.1C453.0 325.1 453.9 328.7 455.4 332.0C456.8 335.2 459.7 338.3 461.9 340.7C464.0 343.0 467.3 345.2 468.4 346.1" stroke-width="2.5" opacity="0.40"/><path d="M486.8 319.0C488.3 320.0 492.3 322.9 495.5 325.5C498.8 328.0 502.8 332.0 506.4 334.2C510.0 336.3 513.0 337.0 517.2 338.5C521.5 340.0 529.5 342.5 532.0 343.3" stroke-width="2.5" opacity="0.42"/><path d="M453.2 321.1C451.6 322.2 446.2 325.8 443.4 327.6C440.6 329.5 437.6 331.6 436.5 332.4" stroke-width="2.2" opacity="0.35"/><path d="M508.6 271.2C508.2 273.7 507.5 281.7 506.4 286.4C505.3 291.1 503.9 295.1 502.0 299.4C500.2 303.8 498.1 309.2 495.5 312.4C493.0 315.7 489.0 316.4 486.8 319.0C484.7 321.5 483.2 326.2 482.5 327.6" stroke-width="2.2" opacity="0.37"/><path d="M524.8 271.2C523.6 273.4 520.0 281.3 517.2 284.2C514.5 287.1 511.4 287.5 508.6 288.6C505.7 289.7 502.4 289.3 499.9 290.7C497.3 292.2 494.4 296.2 493.4 297.3" stroke-width="2.0" opacity="0.33"/><path d="M400.0 302.7C401.4 303.0 405.4 304.1 408.7 304.8C411.9 305.6 415.6 306.1 419.5 307.0C423.5 307.9 430.4 309.7 432.6 310.3" stroke-width="2.0" opacity="0.26"/><path d="M465.1 325.5C467.3 326.2 473.8 328.0 478.2 329.8C482.5 331.6 487.2 334.2 491.2 336.3C495.2 338.5 498.4 339.9 502.0 342.8C505.7 345.7 511.1 351.9 512.9 353.7" stroke-width="2.0" opacity="0.33"/><path d="M408.7 269.0C409.4 272.3 412.7 282.1 413.0 288.6C413.4 295.1 411.9 301.6 410.9 308.1C409.8 314.6 407.2 324.4 406.5 327.6" stroke-width="2.0" opacity="0.22"/><path d="M449.9 377.5C453.6 377.2 464.4 375.2 471.6 375.4C478.9 375.5 486.5 377.5 493.4 378.6C500.2 379.7 506.5 380.9 512.9 381.9C519.3 382.9 528.8 384.1 532.0 384.5" stroke-width="2.5" opacity="0.40"/><path d="M428.2 384.1C427.0 386.2 422.8 392.0 420.6 397.1C418.5 402.1 416.5 408.7 415.2 414.4C413.9 420.2 413.4 428.9 413.0 431.8" stroke-width="2.0" opacity="0.25"/><path d="M491.2 358.0C492.6 360.2 496.3 367.0 499.9 371.0C503.5 375.0 510.7 380.1 512.9 381.9" stroke-width="2.0" opacity="0.33"/><path d="M512.9 381.9C512.2 385.1 511.1 394.5 508.6 401.4C506.0 408.3 500.6 415.9 497.7 423.1C494.8 430.4 493.0 438.7 491.2 444.8C489.4 451.0 487.6 457.5 486.8 460.0" stroke-width="2.0" opacity="0.26"/><path d="M575.4 288.5C573.6 286.0 568.2 277.7 564.5 273.4C560.9 269.0 556.9 265.4 553.7 262.5C550.4 259.6 546.5 257.1 545.0 256.0" stroke-width="2.5" opacity="0.40"/><path d="M575.4 288.5C577.6 286.4 584.8 279.5 588.4 275.5C592.0 271.5 594.9 267.9 597.1 264.7C599.2 261.4 600.7 257.4 601.4 256.0" stroke-width="2.5" opacity="0.40"/><path d="M575.4 288.5C578.3 289.3 586.2 291.1 592.7 292.9C599.2 294.7 607.2 297.2 614.4 299.4C621.7 301.6 629.3 304.6 636.1 305.9C643.0 307.2 652.4 306.8 655.6 307.0" stroke-width="2.2" opacity="0.37"/><path d="M560.2 327.6C557.7 326.5 549.7 322.5 545.0 321.1C540.3 319.6 534.2 319.3 532.0 318.9" stroke-width="2.5" opacity="0.40"/><path d="M560.2 327.6C562.0 330.1 568.5 337.7 571.0 342.8C573.6 347.8 574.3 353.2 575.4 358.0C576.5 362.7 576.5 365.6 577.6 371.0C578.6 376.4 580.1 383.3 581.9 390.5C583.7 397.8 585.9 406.4 588.4 414.4C590.9 422.4 594.5 430.7 597.1 438.3C599.6 445.9 602.5 456.3 603.6 460.0" stroke-width="2.5" opacity="0.40"/><path d="M560.2 327.6C558.8 330.1 554.8 337.7 551.5 342.8C548.3 347.8 543.2 353.2 540.7 358.0C538.1 362.7 537.8 366.7 536.3 371.0C534.9 375.4 532.7 381.9 532.0 384.0" stroke-width="2.2" opacity="0.37"/><path d="M625.3 368.8C622.7 370.3 616.2 374.6 610.1 377.5C603.9 380.4 594.5 381.9 588.4 386.2C582.3 390.5 577.9 397.8 573.2 403.6C568.5 409.3 564.9 414.0 560.2 420.9C555.5 427.8 549.0 438.3 545.0 444.8C541.0 451.3 537.8 457.4 536.3 460.0" stroke-width="2.8" opacity="0.44"/><path d="M625.3 368.8C626.7 371.4 630.7 377.9 634.0 384.0C637.2 390.2 641.5 398.1 644.8 405.7C648.1 413.3 650.9 421.6 653.5 429.6C656.0 437.5 658.9 449.5 660.0 453.4" stroke-width="2.2" opacity="0.37"/><path d="M625.3 368.8C627.8 368.1 634.3 365.6 640.5 364.5C646.6 363.4 658.5 362.7 662.2 362.3" stroke-width="2.2" opacity="0.37"/><path d="M625.3 368.8C624.9 367.0 623.8 362.3 623.1 358.0C622.4 353.7 620.9 348.9 620.9 342.8C620.9 336.6 621.3 328.3 623.1 321.1C624.9 313.8 628.2 305.9 631.8 299.4C635.4 292.9 639.7 287.1 644.8 282.0C649.9 277.0 659.3 271.2 662.2 269.0" stroke-width="2.2" opacity="0.35"/><path d="M532.0 429.6C535.6 428.5 545.7 424.2 553.7 423.1C561.6 422.0 571.0 422.0 579.7 423.1C588.4 424.2 597.1 426.7 605.8 429.6C614.4 432.5 622.4 437.9 631.8 440.4C641.2 443.0 657.1 444.0 662.2 444.8" stroke-width="2.2" opacity="0.37"/><path d="M549.4 460.0C552.2 457.4 560.2 449.5 566.7 444.8C573.2 440.1 580.4 435.4 588.4 431.8C596.4 428.1 605.8 424.9 614.4 423.1C623.1 421.3 632.1 420.9 640.5 420.9C648.8 420.9 660.3 422.7 664.3 423.1" stroke-width="2.2" opacity="0.35"/><path d="M536.3 260.1C533.5 260.7 525.2 262.5 519.6 264.0C514.1 265.5 508.7 267.2 503.3 269.0C497.9 270.9 492.6 273.0 487.3 275.2C482.1 277.4 474.4 281.2 471.8 282.4" stroke-width="2.1" opacity="0.13"/><path d="M592.7 448.2C594.3 445.9 600.3 439.4 602.8 434.4C605.4 429.3 607.1 423.5 607.9 417.9C608.6 412.3 608.3 406.3 607.2 400.7C606.0 395.2 601.9 387.4 600.9 384.7" stroke-width="2.6" opacity="0.30"/><path d="M533.0 385.1C534.3 385.3 538.3 385.9 540.9 386.1C543.6 386.4 546.2 386.5 548.9 386.6C551.6 386.6 554.2 386.6 556.9 386.4C559.6 386.3 563.5 385.8 564.9 385.7" stroke-width="1.7" opacity="0.25"/><path d="M641.8 326.4C641.2 327.6 639.3 331.1 638.4 333.6C637.5 336.1 636.8 338.7 636.4 341.2C635.9 343.8 635.6 346.5 635.5 349.1C635.5 351.8 636.0 355.7 636.0 357.0" stroke-width="2.4" opacity="0.28"/><path d="M504.9 354.0C502.3 355.8 494.9 361.9 489.5 365.0C484.0 368.1 478.1 370.6 472.1 372.5C466.1 374.5 459.8 375.8 453.5 376.4C447.2 377.0 437.7 376.4 434.5 376.4" stroke-width="2.3" opacity="0.20"/><path d="M659.4 457.4C658.6 458.8 656.2 463.1 654.3 465.8C652.3 468.4 650.2 471.0 647.9 473.3C645.6 475.6 643.1 477.8 640.5 479.8C637.9 481.8 633.7 484.3 632.3 485.2" stroke-width="1.6" opacity="0.24"/><path d="M509.2 321.3C510.8 322.0 515.7 324.0 518.8 325.8C521.8 327.5 524.8 329.5 527.6 331.7C530.3 333.9 532.9 336.4 535.3 339.0C537.7 341.6 540.8 345.9 541.9 347.3" stroke-width="2.6" opacity="0.24"/><path d="M604.4 381.8C603.5 382.9 600.6 386.2 598.7 388.5C596.9 390.7 595.1 393.0 593.3 395.4C591.5 397.7 589.7 400.0 588.0 402.4C586.3 404.7 583.8 408.3 582.9 409.5" stroke-width="2.4" opacity="0.16"/><path d="M492.6 413.3C491.8 415.9 489.7 424.1 487.5 429.2C485.2 434.3 482.5 439.3 479.3 443.9C476.1 448.4 472.4 452.8 468.4 456.6C464.4 460.5 457.4 465.3 455.2 467.0" stroke-width="2.7" opacity="0.17"/><path d="M570.9 420.6C571.2 418.0 571.2 409.8 572.4 404.7C573.5 399.5 575.3 394.3 577.7 389.5C580.1 384.8 583.2 380.2 586.6 376.2C590.1 372.2 596.6 367.3 598.6 365.5" stroke-width="2.3" opacity="0.30"/><path d="M566.5 406.7C568.3 406.1 573.6 404.3 577.2 403.2C580.8 402.2 584.5 401.2 588.1 400.4C591.8 399.6 595.5 398.9 599.2 398.3C602.9 397.7 608.5 397.1 610.4 396.9" stroke-width="2.0" opacity="0.22"/><path d="M510.6 260.0C510.8 257.9 511.0 251.4 511.4 247.0C511.9 242.7 512.5 238.4 513.2 234.1C514.0 229.8 515.0 225.6 516.1 221.4C517.2 217.2 519.3 211.0 520.0 208.9" stroke-width="2.4" opacity="0.18"/><path d="M572.5 290.6C573.4 287.6 575.3 278.3 577.6 272.5C580.0 266.8 583.0 261.2 586.5 256.1C590.1 250.9 594.3 246.1 598.8 241.9C603.4 237.7 611.4 232.6 613.9 230.7" stroke-width="2.6" opacity="0.25"/><path d="M624.5 295.5C624.7 293.6 625.4 288.0 625.7 284.3C626.1 280.5 626.4 276.8 626.6 273.1C626.8 269.3 627.0 265.6 627.0 261.8C627.1 258.1 627.1 252.4 627.1 250.5" stroke-width="1.9" opacity="0.27"/><path d="M619.0 373.5C618.4 375.0 616.6 379.4 615.1 382.2C613.5 384.9 611.7 387.6 609.7 390.1C607.8 392.5 605.6 394.9 603.2 397.0C600.9 399.1 596.9 401.8 595.6 402.8" stroke-width="1.9" opacity="0.24"/><path d="M515.1 317.5C516.8 318.5 521.8 321.2 524.9 323.3C528.1 325.5 531.1 327.8 533.9 330.3C536.8 332.8 539.5 335.5 542.1 338.3C544.6 341.1 548.0 345.7 549.2 347.2" stroke-width="2.7" opacity="0.22"/><path d="M554.5 390.1C552.3 387.8 545.7 381.2 541.5 376.7C537.2 372.2 533.0 367.6 528.9 363.0C524.8 358.3 520.7 353.6 516.7 348.9C512.8 344.1 507.0 336.8 505.0 334.3" stroke-width="2.6" opacity="0.20"/><path d="M557.7 362.0C560.2 360.6 567.8 356.7 572.8 354.0C577.8 351.3 582.9 348.6 587.9 345.9C592.9 343.2 597.9 340.4 602.9 337.7C607.9 335.0 615.4 330.8 617.9 329.5" stroke-width="2.1" opacity="0.24"/><path d="M586.2 368.4C589.5 367.8 599.4 364.8 606.1 364.8C612.7 364.7 619.8 365.9 626.1 368.1C632.3 370.3 638.6 373.7 643.7 377.9C648.9 382.1 654.8 390.6 657.0 393.2" stroke-width="1.7" opacity="0.24"/><path d="M572.3 442.1C571.0 445.2 566.2 454.3 564.4 460.7C562.7 467.2 561.7 474.1 561.7 480.7C561.7 487.4 562.6 494.3 564.3 500.8C566.0 507.2 570.8 516.3 572.1 519.5" stroke-width="2.0" opacity="0.31"/><path d="M609.6 446.3C608.0 445.9 603.3 444.9 600.2 443.9C597.1 443.0 594.1 441.9 591.1 440.6C588.1 439.4 585.2 438.0 582.4 436.4C579.6 434.9 575.5 432.2 574.1 431.3" stroke-width="2.2" opacity="0.25"/><path d="M526.4 285.7C529.5 284.2 538.5 278.2 545.0 276.9C551.5 275.5 559.2 275.8 565.6 277.6C572.0 279.4 578.6 283.2 583.5 287.8C588.3 292.4 592.8 302.2 594.7 305.1" stroke-width="1.9" opacity="0.13"/><path d="M603.2 406.3C602.5 405.4 600.5 402.5 599.0 400.7C597.5 398.8 595.9 397.1 594.2 395.4C592.6 393.8 590.9 392.2 589.1 390.7C587.3 389.2 584.4 387.1 583.4 386.4" stroke-width="2.4" opacity="0.16"/><path d="M645.6 457.9C645.7 459.0 645.9 462.6 645.7 464.9C645.6 467.3 645.2 469.6 644.6 471.9C644.1 474.2 643.3 476.5 642.4 478.6C641.5 480.8 639.6 483.8 639.0 484.8" stroke-width="2.5" opacity="0.25"/><path d="M591.2 442.9C590.5 443.8 588.3 446.6 586.8 448.4C585.3 450.2 583.8 452.0 582.3 453.8C580.7 455.5 579.1 457.3 577.5 459.0C575.9 460.6 573.3 463.1 572.5 463.9" stroke-width="1.9" opacity="0.27"/><path d="M659.3 329.7C659.3 330.8 659.5 334.4 659.4 336.7C659.3 339.0 659.1 341.4 658.7 343.7C658.4 346.0 657.9 348.3 657.2 350.6C656.6 352.9 655.3 356.1 654.9 357.3" stroke-width="1.6" opacity="0.37"/><path d="M625.9 442.1C626.5 440.7 628.5 436.5 629.5 433.7C630.5 430.8 631.3 427.8 631.8 424.9C632.4 421.9 632.7 418.8 632.8 415.8C633.0 412.8 632.6 408.2 632.5 406.7" stroke-width="2.7" opacity="0.21"/><path d="M637.9 290.9C637.1 293.5 634.1 301.2 633.0 306.5C631.9 311.8 631.3 317.4 631.3 322.8C631.3 328.2 631.9 333.7 633.0 339.1C634.1 344.4 637.1 352.0 637.9 354.6" stroke-width="2.4" opacity="0.34"/><path d="M564.1 317.0C566.1 317.4 572.3 319.1 576.5 319.2C580.6 319.4 584.9 318.9 589.0 318.0C593.0 317.0 597.1 315.4 600.7 313.4C604.3 311.4 609.1 307.1 610.8 305.8" stroke-width="2.2" opacity="0.25"/><path d="M605.4 379.3C602.7 377.3 594.7 371.6 589.4 367.7C584.1 363.7 578.9 359.7 573.7 355.6C568.5 351.5 563.4 347.3 558.4 343.0C553.4 338.8 546.0 332.2 543.5 330.0" stroke-width="2.6" opacity="0.22"/><path d="M527.4 301.4C527.8 299.8 528.9 295.1 530.0 292.0C531.1 289.0 532.3 286.0 533.8 283.1C535.3 280.2 536.9 277.4 538.7 274.8C540.6 272.1 543.8 268.4 544.8 267.2" stroke-width="2.6" opacity="0.21"/><path d="M528.0 383.3C525.6 385.6 517.6 391.8 513.5 396.9C509.4 402.1 505.9 408.0 503.3 414.0C500.8 420.0 499.0 426.7 498.1 433.2C497.3 439.7 498.3 449.8 498.3 453.1" stroke-width="1.8" opacity="0.20"/><path d="M593.6 294.4C591.7 296.3 586.0 302.1 582.2 306.0C578.4 309.9 574.7 313.8 571.0 317.8C567.3 321.8 563.7 325.8 560.1 329.9C556.5 333.9 551.3 340.2 549.5 342.2" stroke-width="1.6" opacity="0.22"/><path d="M580.8 347.4C582.5 347.7 587.8 348.1 591.1 349.0C594.4 349.9 597.7 351.2 600.7 352.8C603.7 354.5 606.6 356.5 609.1 358.8C611.7 361.1 614.8 365.3 616.0 366.6" stroke-width="2.6" opacity="0.31"/><path d="M633.5 344.6C635.1 343.9 640.1 341.8 643.4 340.5C646.8 339.2 650.1 338.0 653.5 336.9C657.0 335.8 660.4 334.7 663.9 333.8C667.3 332.9 672.6 331.7 674.3 331.2" stroke-width="2.2" opacity="0.25"/><path d="M550.8 323.5C549.7 322.1 546.5 317.9 544.2 315.3C541.9 312.7 539.5 310.1 537.0 307.6C534.6 305.2 531.9 302.8 529.3 300.6C526.6 298.3 522.3 295.2 520.9 294.2" stroke-width="1.9" opacity="0.19"/><path d="M643.2 367.4C646.1 367.8 654.7 368.8 660.4 369.4C666.2 370.1 671.9 370.8 677.7 371.5C683.4 372.2 689.2 372.8 694.9 373.5C700.7 374.2 709.3 375.3 712.2 375.6" stroke-width="2.5" opacity="0.26"/><path d="M562.3 427.3C563.1 428.9 565.5 433.5 567.1 436.6C568.8 439.6 570.4 442.7 572.0 445.8C573.7 448.8 575.4 451.9 577.0 454.9C578.7 458.0 581.2 462.5 582.1 464.0" stroke-width="2.6" opacity="0.16"/><path d="M567.4 364.7C566.8 363.5 565.0 360.0 564.0 357.6C563.0 355.2 562.1 352.8 561.3 350.3C560.5 347.8 559.9 345.2 559.4 342.7C558.8 340.1 558.4 336.2 558.2 335.0" stroke-width="2.2" opacity="0.23"/><path d="M574.8 320.3C577.6 318.0 586.7 312.1 591.2 306.9C595.7 301.6 599.6 295.2 602.1 288.7C604.5 282.2 606.0 274.9 606.2 267.9C606.3 261.0 603.6 250.5 603.0 247.0" stroke-width="1.8" opacity="0.26"/><path d="M634.3 424.0C633.8 425.5 631.9 429.8 631.2 432.9C630.5 435.9 630.1 439.1 630.0 442.2C629.9 445.3 630.2 448.5 630.7 451.5C631.2 454.6 632.8 459.1 633.2 460.6" stroke-width="2.0" opacity="0.27"/><path d="M649.2 262.8C651.5 264.3 658.5 268.3 662.8 271.4C667.1 274.6 671.2 278.0 675.0 281.8C678.9 285.5 682.5 289.5 685.8 293.7C689.0 297.9 693.3 304.8 694.8 307.0" stroke-width="1.7" opacity="0.18"/><path d="M495.5 388.4C495.2 390.1 494.4 394.9 493.7 398.1C492.9 401.3 492.1 404.5 491.1 407.6C490.1 410.8 488.9 413.9 487.7 416.9C486.4 419.9 484.2 424.4 483.6 425.9" stroke-width="1.7" opacity="0.19"/><path d="M515.0 269.5C513.5 266.9 509.2 258.9 506.1 253.7C503.1 248.5 499.9 243.3 496.7 238.2C493.5 233.1 490.2 228.1 486.8 223.1C483.4 218.1 478.1 210.7 476.3 208.2" stroke-width="2.0" opacity="0.23"/><path d="M510.9 312.9C513.7 311.0 523.4 306.3 527.9 301.4C532.4 296.5 536.0 289.8 537.8 283.4C539.5 277.0 539.7 269.5 538.4 263.0C537.0 256.5 531.1 247.5 529.6 244.5" stroke-width="1.5" opacity="0.23"/><path d="M586.9 411.6C585.5 409.9 581.2 405.0 578.8 401.5C576.3 397.9 574.1 394.2 572.2 390.3C570.2 386.5 568.5 382.5 567.1 378.4C565.7 374.3 564.3 368.0 563.7 365.9" stroke-width="2.3" opacity="0.15"/><path d="M589.2 436.0C589.7 433.4 591.0 425.4 592.2 420.2C593.5 415.0 595.0 409.9 596.8 404.8C598.6 399.8 600.6 394.8 602.9 389.9C605.1 385.1 609.1 378.1 610.3 375.7" stroke-width="2.5" opacity="0.20"/><path d="M577.1 384.8C577.9 383.1 580.6 378.2 581.9 374.8C583.2 371.3 584.2 367.7 584.8 364.1C585.4 360.5 585.7 356.7 585.6 353.0C585.6 349.4 584.7 343.9 584.5 342.0" stroke-width="1.8" opacity="0.22"/><path d="M517.0 384.3C518.5 383.1 522.8 379.3 526.0 377.4C529.3 375.5 532.9 374.0 536.6 373.1C540.2 372.1 544.1 371.6 547.9 371.6C551.6 371.6 557.3 372.8 559.1 373.0" stroke-width="2.0" opacity="0.20"/><path d="M663.1 400.9C660.1 400.8 651.4 400.5 645.5 400.3C639.7 400.2 633.8 400.1 627.9 400.1C622.1 400.1 616.2 400.2 610.4 400.4C604.5 400.5 595.7 400.9 592.8 401.0" stroke-width="2.4" opacity="0.21"/><path d="M511.2 378.3C509.0 378.0 502.5 376.5 498.1 376.4C493.8 376.3 489.3 376.7 485.1 377.7C480.8 378.7 476.6 380.3 472.7 382.3C468.9 384.3 463.7 388.5 461.9 389.8" stroke-width="2.7" opacity="0.14"/><path d="M661.8 321.0C661.2 324.3 660.6 335.0 657.8 340.9C655.0 346.9 650.4 352.8 645.2 356.9C640.0 361.0 633.2 364.2 626.7 365.5C620.3 366.8 609.8 364.9 606.4 364.7" stroke-width="2.4" opacity="0.37"/><path d="M535.2 430.9C533.8 429.7 529.8 426.1 527.3 423.6C524.7 421.2 522.2 418.6 519.8 416.0C517.4 413.4 515.0 410.7 512.7 408.0C510.4 405.3 507.2 401.1 506.1 399.7" stroke-width="1.6" opacity="0.25"/><path d="M616.5 277.9C616.9 279.7 617.9 284.9 618.5 288.4C619.2 291.8 620.0 295.3 620.7 298.8C621.4 302.2 622.2 305.7 623.0 309.1C623.8 312.6 625.0 317.8 625.5 319.5" stroke-width="1.8" opacity="0.21"/><path d="M602.8 286.1C602.8 283.9 603.1 277.4 603.1 273.1C603.0 268.7 602.9 264.4 602.6 260.1C602.3 255.8 601.8 251.4 601.3 247.1C600.7 242.8 599.5 236.4 599.2 234.3" stroke-width="2.2" opacity="0.18"/><path d="M651.8 279.6C648.4 278.6 638.7 274.3 631.9 273.5C625.2 272.8 617.8 273.4 611.3 275.2C604.7 276.9 598.1 280.2 592.6 284.2C587.2 288.2 580.9 296.9 578.6 299.4" stroke-width="2.4" opacity="0.36"/><path d="M665.6 327.0C663.2 324.6 655.7 317.7 651.2 312.6C646.8 307.4 642.6 302.0 638.8 296.4C635.0 290.7 631.6 284.8 628.6 278.7C625.5 272.7 622.0 263.1 620.6 260.0" stroke-width="2.6" opacity="0.32"/><path d="M498.8 326.6C500.5 325.2 505.8 321.2 509.2 318.4C512.6 315.6 516.0 312.7 519.3 309.7C522.6 306.7 525.8 303.7 528.9 300.6C532.1 297.5 536.7 292.7 538.2 291.1" stroke-width="1.9" opacity="0.14"/><path d="M620.5 336.7C621.4 336.0 623.8 333.5 625.6 332.1C627.4 330.7 629.3 329.3 631.3 328.1C633.2 326.9 635.3 325.9 637.4 324.9C639.5 324.0 642.8 322.9 643.8 322.5" stroke-width="1.6" opacity="0.31"/><path d="M587.9 407.1C586.5 407.5 582.5 409.1 579.7 409.7C576.9 410.3 573.9 410.7 571.1 410.7C568.2 410.8 565.3 410.5 562.5 410.0C559.7 409.5 555.6 408.1 554.2 407.7" stroke-width="2.3" opacity="0.18"/><path d="M609.7 298.9C607.7 300.3 601.6 304.9 597.3 307.6C593.1 310.4 588.7 313.0 584.3 315.3C579.8 317.7 575.2 319.9 570.6 321.9C565.9 323.9 558.8 326.4 556.4 327.3" stroke-width="1.6" opacity="0.19"/><path d="M587.9 361.4C589.5 359.5 593.7 353.2 597.2 349.8C600.7 346.3 604.7 343.1 608.9 340.6C613.1 338.0 617.8 335.8 622.5 334.3C627.1 332.8 634.6 331.8 637.1 331.3" stroke-width="2.0" opacity="0.18"/><path d="M556.5 261.2C554.7 263.2 550.0 269.7 546.1 273.1C542.2 276.5 537.6 279.5 532.9 281.8C528.2 284.1 523.0 285.7 517.9 286.7C512.8 287.6 504.8 287.2 502.2 287.4" stroke-width="1.8" opacity="0.25"/><path d="M632.6 397.1C635.0 396.5 642.3 394.9 647.1 393.7C651.9 392.5 656.7 391.1 661.5 389.7C666.3 388.2 671.0 386.7 675.7 385.1C680.4 383.4 687.4 380.7 689.7 379.8" stroke-width="2.2" opacity="0.16"/><path d="M485.9 356.8C484.9 357.8 481.9 360.6 480.0 362.6C478.1 364.6 476.2 366.6 474.5 368.7C472.7 370.8 470.9 373.0 469.3 375.2C467.6 377.4 465.3 380.8 464.5 381.9" stroke-width="2.3" opacity="0.18"/><path d="M577.5 413.2C580.6 414.3 590.1 417.0 596.0 419.6C601.9 422.3 607.7 425.5 613.0 429.2C618.4 432.8 623.5 437.0 628.2 441.5C632.8 446.1 638.8 453.9 640.9 456.3" stroke-width="2.0" opacity="0.26"/><path d="M658.1 389.7C656.8 387.3 651.7 380.3 649.9 375.1C648.1 369.9 647.1 364.0 647.1 358.5C647.2 353.0 648.3 347.2 650.2 342.0C652.2 336.9 657.3 330.0 658.8 327.6" stroke-width="2.6" opacity="0.22"/><path d="M493.3 312.8C492.2 314.0 489.0 317.8 486.8 320.3C484.6 322.8 482.5 325.4 480.4 327.9C478.3 330.5 476.2 333.1 474.2 335.7C472.2 338.3 469.2 342.3 468.1 343.6" stroke-width="2.7" opacity="0.14"/><path d="M575.0 426.0C576.3 427.5 580.2 431.6 582.8 434.5C585.4 437.4 587.9 440.3 590.4 443.2C592.9 446.1 595.3 449.1 597.7 452.1C600.1 455.1 603.6 459.7 604.8 461.2" stroke-width="2.5" opacity="0.29"/><path d="M551.9 450.4C550.6 450.9 546.8 452.4 544.4 453.6C541.9 454.9 539.6 456.4 537.4 457.9C535.1 459.5 533.0 461.3 531.0 463.2C529.0 465.0 526.4 468.2 525.5 469.2" stroke-width="2.0" opacity="0.27"/><path d="M508.9 300.5C509.9 297.5 513.7 288.9 514.8 282.8C516.0 276.8 516.3 270.4 515.7 264.3C515.1 258.2 513.6 251.9 511.4 246.2C509.2 240.4 503.8 232.7 502.3 229.9" stroke-width="1.6" opacity="0.22"/><path d="M638.4 266.3C637.0 266.1 632.9 265.5 630.1 265.1C627.3 264.6 624.6 264.1 621.9 263.5C619.1 263.0 616.4 262.3 613.7 261.6C611.0 261.0 607.0 259.8 605.6 259.4" stroke-width="1.6" opacity="0.19"/><path d="M601.1 449.3C602.4 449.5 606.2 450.4 608.7 450.7C611.3 451.0 613.9 451.2 616.4 451.2C619.0 451.2 621.6 451.1 624.2 450.8C626.7 450.5 630.5 449.7 631.8 449.5" stroke-width="2.5" opacity="0.19"/><path d="M555.0 343.7C556.1 342.3 559.4 338.2 561.5 335.5C563.7 332.8 565.8 330.0 567.9 327.2C570.0 324.4 572.1 321.7 574.1 318.8C576.2 316.0 579.2 311.8 580.3 310.4" stroke-width="2.1" opacity="0.22"/><path d="M585.9 420.3C586.6 422.5 588.2 429.3 590.1 433.5C592.1 437.6 594.7 441.6 597.6 445.1C600.5 448.6 604.0 451.8 607.7 454.5C611.5 457.1 617.9 459.9 619.9 461.0" stroke-width="2.6" opacity="0.22"/><path d="M665.8 391.4C666.8 394.6 669.0 404.5 671.6 410.7C674.1 416.9 677.4 422.9 681.2 428.4C684.9 433.9 689.4 439.1 694.2 443.7C699.0 448.3 707.4 454.0 710.1 456.1" stroke-width="2.3" opacity="0.33"/><path d="M518.2 293.7C516.5 294.5 511.2 296.9 507.8 298.8C504.5 300.7 501.2 302.8 498.0 305.1C494.9 307.3 491.8 309.8 488.9 312.3C486.0 314.9 482.1 319.2 480.7 320.5" stroke-width="1.8" opacity="0.18"/><path d="M663.7 349.6C662.1 350.1 657.2 351.1 654.0 352.2C650.9 353.4 647.8 354.7 644.9 356.3C642.0 357.9 639.1 359.7 636.5 361.8C633.9 363.8 630.3 367.3 629.0 368.4" stroke-width="1.8" opacity="0.35"/><path d="M651.0 290.9C649.1 292.4 643.2 297.0 639.1 300.0C635.1 302.9 631.0 305.8 626.9 308.5C622.7 311.3 618.5 314.0 614.3 316.6C610.0 319.2 603.5 322.9 601.4 324.2" stroke-width="1.8" opacity="0.18"/><path d="M638.8 282.6C636.4 284.4 629.6 290.1 624.6 293.2C619.7 296.3 614.4 299.1 608.9 301.4C603.5 303.7 597.8 305.5 592.1 306.9C586.4 308.2 577.6 309.1 574.7 309.6" stroke-width="2.0" opacity="0.32"/><path d="M665.2 354.0C667.0 352.5 672.4 347.9 675.8 344.7C679.2 341.5 682.4 338.1 685.6 334.6C688.7 331.1 691.7 327.5 694.5 323.8C697.4 320.0 701.3 314.2 702.6 312.3" stroke-width="2.7" opacity="0.33"/><path d="M526.2 366.5C524.5 368.1 519.8 373.1 516.2 375.9C512.7 378.7 508.8 381.3 504.8 383.4C500.8 385.6 496.6 387.5 492.3 388.9C488.0 390.3 481.2 391.5 479.0 392.1" stroke-width="1.9" opacity="0.22"/><path d="M548.4 346.5C550.6 344.7 557.5 339.4 561.7 335.4C565.8 331.5 569.8 327.2 573.5 322.8C577.2 318.4 580.7 313.7 583.8 308.9C587.0 304.1 591.0 296.4 592.4 293.9" stroke-width="1.8" opacity="0.23"/><path d="M590.7 457.6C589.7 460.8 586.0 470.2 584.9 476.8C583.9 483.3 583.7 490.3 584.5 496.8C585.2 503.4 586.8 510.2 589.3 516.3C591.7 522.5 597.4 530.9 599.1 533.8" stroke-width="2.5" opacity="0.30"/><path d="M538.2 346.6C537.7 344.6 536.6 338.4 535.2 334.6C533.7 330.7 531.7 327.0 529.3 323.6C527.0 320.2 524.1 317.1 521.0 314.4C517.9 311.7 512.4 308.6 510.7 307.4" stroke-width="2.5" opacity="0.21"/><path d="M537.2 266.6C535.5 266.3 530.1 265.9 526.7 265.2C523.2 264.4 519.8 263.4 516.5 262.1C513.2 260.8 510.0 259.2 507.0 257.3C504.0 255.5 499.8 252.1 498.4 251.1" stroke-width="1.7" opacity="0.13"/><path d="M653.9 341.3C655.4 339.4 659.4 333.0 662.9 329.5C666.4 326.1 670.5 323.1 674.8 320.7C679.1 318.4 683.9 316.6 688.7 315.6C693.4 314.5 701.0 314.7 703.4 314.5" stroke-width="2.7" opacity="0.18"/><path d="M556.3 293.5C559.0 292.7 567.0 289.5 572.4 289.0C577.8 288.5 583.7 288.9 589.0 290.3C594.3 291.7 599.7 294.2 604.1 297.4C608.6 300.6 613.9 307.3 615.8 309.3" stroke-width="2.7" opacity="0.27"/><path d="M649.4 448.0C647.0 446.1 638.8 441.0 635.1 436.3C631.4 431.5 628.4 425.4 627.1 419.5C625.8 413.6 625.7 406.9 627.0 401.0C628.3 395.1 633.6 387.0 634.9 384.2" stroke-width="2.1" opacity="0.21"/><path d="M620.0 267.4C619.3 269.3 617.4 275.0 615.7 278.5C613.9 282.0 611.8 285.4 609.4 288.6C607.0 291.8 604.3 294.7 601.4 297.4C598.5 300.1 593.5 303.5 592.0 304.7" stroke-width="1.5" opacity="0.22"/><path d="M561.5 391.3C563.1 389.7 567.6 384.5 571.1 381.8C574.6 379.0 578.5 376.6 582.5 374.7C586.6 372.8 590.9 371.4 595.3 370.5C599.7 369.6 606.5 369.5 608.7 369.3" stroke-width="2.0" opacity="0.22"/><path d="M564.2 296.1C566.2 294.5 572.4 290.0 576.0 286.4C579.6 282.8 583.0 278.9 585.9 274.8C588.9 270.6 591.5 266.2 593.6 261.6C595.8 257.0 598.0 249.6 598.9 247.2" stroke-width="2.2" opacity="0.21"/><path d="M498.7 398.2C500.5 396.3 506.2 391.1 509.1 386.9C512.0 382.7 514.4 378.0 516.1 373.2C517.8 368.4 518.8 363.2 519.1 358.1C519.5 353.0 518.2 345.3 518.0 342.8" stroke-width="2.0" opacity="0.15"/><path d="M534.1 316.1C536.6 314.2 543.7 307.7 549.1 304.6C554.6 301.6 560.6 299.2 566.7 297.7C572.8 296.2 579.3 295.6 585.5 295.8C591.7 296.1 601.0 298.6 604.1 299.2" stroke-width="2.7" opacity="0.14"/><path d="M544.5 265.0C547.1 265.0 555.1 265.4 560.3 265.4C565.6 265.3 570.9 265.1 576.2 264.6C581.5 264.2 586.7 263.6 592.0 262.7C597.2 261.9 604.9 260.2 607.5 259.7" stroke-width="2.2" opacity="0.27"/><path d="M557.8 306.0C558.3 305.0 559.6 301.9 560.7 300.0C561.7 298.1 563.0 296.3 564.3 294.5C565.7 292.8 567.2 291.1 568.8 289.6C570.3 288.1 573.0 286.0 573.8 285.3" stroke-width="1.9" opacity="0.14"/><path d="M544.0 272.6C544.7 271.6 546.9 268.8 548.0 266.7C549.2 264.7 550.2 262.5 551.0 260.3C551.8 258.1 552.5 255.8 553.0 253.5C553.4 251.2 553.7 247.7 553.8 246.5" stroke-width="2.3" opacity="0.16"/><path d="M566.6 416.5C564.1 417.8 556.1 421.2 551.3 424.3C546.5 427.3 541.9 430.9 537.7 434.8C533.5 438.7 529.6 443.0 526.3 447.6C522.9 452.2 518.9 459.9 517.4 462.4" stroke-width="1.7" opacity="0.15"/><path d="M644.5 281.0C645.8 281.7 649.6 283.7 652.1 285.1C654.6 286.5 657.2 287.8 659.7 289.2C662.2 290.6 664.7 292.0 667.2 293.4C669.7 294.9 673.4 297.0 674.6 297.7" stroke-width="2.4" opacity="0.26"/><path d="M613.4 357.5C613.3 355.0 613.7 347.2 612.8 342.2C612.0 337.2 610.6 332.2 608.6 327.5C606.6 322.9 603.9 318.4 600.8 314.3C597.7 310.3 591.9 305.3 590.1 303.5" stroke-width="1.9" opacity="0.34"/><path d="M586.3 394.3C587.6 396.7 591.9 403.8 594.0 408.8C596.2 413.8 597.9 419.0 599.2 424.3C600.6 429.6 601.5 435.1 601.9 440.5C602.3 445.9 601.9 454.1 601.9 456.9" stroke-width="1.7" opacity="0.31"/><path d="M577.2 326.7C575.7 323.7 570.2 315.0 568.4 308.7C566.6 302.4 565.7 295.3 566.1 288.8C566.5 282.2 568.1 275.3 570.6 269.2C573.1 263.1 579.5 255.1 581.3 252.3" stroke-width="2.2" opacity="0.15"/><path d="M592.4 382.7C593.2 381.4 595.6 377.5 597.2 374.8C598.8 372.1 600.4 369.5 601.9 366.8C603.4 364.1 604.9 361.4 606.4 358.7C607.9 356.0 610.1 351.9 610.9 350.5" stroke-width="2.3" opacity="0.27"/><path d="M502.0 434.8C504.4 436.9 512.4 442.4 516.4 447.3C520.3 452.1 523.6 458.0 525.7 463.9C527.7 469.8 528.8 476.5 528.8 482.7C528.7 489.0 525.9 498.3 525.3 501.5" stroke-width="2.3" opacity="0.20"/><path d="M569.3 335.4C571.7 334.1 578.8 330.4 583.5 327.8C588.2 325.2 592.9 322.5 597.5 319.7C602.1 317.0 606.7 314.2 611.3 311.3C615.8 308.4 622.5 304.0 624.8 302.5" stroke-width="1.9" opacity="0.31"/><path d="M657.7 444.6C659.4 443.7 664.4 440.8 668.0 439.4C671.6 438.0 675.4 436.9 679.2 436.2C683.0 435.6 686.9 435.3 690.8 435.3C694.6 435.4 700.4 436.4 702.3 436.6" stroke-width="2.4" opacity="0.36"/><path d="M630.2 426.0C630.9 423.7 632.9 416.4 634.8 411.9C636.7 407.3 638.9 402.8 641.5 398.5C644.0 394.2 646.9 390.1 650.0 386.2C653.1 382.4 658.5 377.2 660.2 375.4" stroke-width="1.6" opacity="0.23"/><path d="M639.9 275.1C638.6 277.3 634.8 284.1 632.3 288.8C629.9 293.4 627.6 298.0 625.3 302.8C623.1 307.5 620.9 312.2 618.9 317.0C616.8 321.8 614.0 329.1 613.0 331.5" stroke-width="1.6" opacity="0.19"/><path d="M620.1 367.9C617.3 366.2 607.9 361.9 603.2 357.4C598.6 352.9 594.6 346.9 592.3 340.9C589.9 334.8 588.8 327.7 589.2 321.3C589.6 314.8 593.7 305.3 594.6 302.2" stroke-width="1.9" opacity="0.33"/><path d="M598.4 387.3C600.0 388.5 605.4 391.7 608.3 394.5C611.2 397.4 613.8 400.7 615.8 404.2C617.8 407.7 619.4 411.7 620.4 415.6C621.4 419.5 621.5 425.8 621.8 427.8" stroke-width="2.7" opacity="0.22"/><path d="M550.0 451.9C546.6 451.9 536.0 450.2 529.5 451.7C523.0 453.2 516.3 456.6 511.2 460.9C506.2 465.2 501.7 471.3 499.2 477.5C496.6 483.6 496.6 494.3 496.0 497.7" stroke-width="2.2" opacity="0.18"/><path d="M484.2 355.7C486.2 355.0 492.6 353.3 496.6 351.5C500.6 349.8 504.5 347.6 508.0 345.1C511.6 342.6 515.0 339.7 518.1 336.6C521.1 333.5 525.0 328.1 526.3 326.4" stroke-width="2.4" opacity="0.23"/><path d="M633.6 307.1C634.1 304.2 635.8 295.4 636.8 289.5C637.7 283.6 638.5 277.7 639.3 271.8C640.0 265.8 640.7 259.9 641.2 253.9C641.7 248.0 642.2 239.1 642.5 236.1" stroke-width="2.4" opacity="0.17"/><path d="M541.7 335.1C544.2 333.9 551.5 329.9 556.7 327.8C561.8 325.7 567.1 323.9 572.5 322.6C577.9 321.2 583.4 320.2 588.9 319.6C594.5 319.0 602.8 319.1 605.6 319.0" stroke-width="2.5" opacity="0.25"/><path d="M507.1 438.1C507.2 436.5 507.5 431.8 507.8 428.7C508.1 425.5 508.5 422.4 509.0 419.2C509.4 416.1 509.9 413.0 510.5 409.9C511.1 406.8 512.2 402.2 512.5 400.6" stroke-width="2.1" opacity="0.12"/><path d="M639.5 326.3C637.4 324.1 629.9 318.1 626.6 313.0C623.4 307.9 620.9 301.6 619.9 295.7C618.9 289.7 619.1 283.0 620.5 277.1C621.9 271.2 626.9 263.1 628.2 260.2" stroke-width="2.2" opacity="0.25"/><path d="M487.6 279.2C487.4 277.7 486.7 273.2 486.2 270.3C485.8 267.3 485.4 264.3 485.0 261.4C484.6 258.4 484.3 255.4 483.9 252.4C483.5 249.5 483.1 245.0 482.9 243.5" stroke-width="1.7" opacity="0.22"/><path d="M542.7 413.3C539.9 414.3 531.6 417.0 526.3 419.3C520.9 421.6 515.7 424.3 510.7 427.3C505.7 430.2 500.8 433.5 496.2 437.1C491.6 440.6 485.2 446.6 483.0 448.6" stroke-width="2.7" opacity="0.21"/><path d="M579.2 340.7C578.3 343.3 574.8 350.8 573.7 356.1C572.6 361.4 572.2 367.0 572.5 372.4C572.8 377.8 573.9 383.3 575.6 388.4C577.4 393.6 581.7 400.6 582.9 403.1" stroke-width="1.7" opacity="0.31"/><path d="M542.6 421.4C544.8 422.7 551.1 427.2 555.8 429.0C560.4 430.8 565.6 432.0 570.6 432.3C575.5 432.7 580.8 432.3 585.7 431.2C590.5 430.1 597.4 426.5 599.8 425.6" stroke-width="2.0" opacity="0.18"/><path d="M612.2 256.9C611.7 259.8 610.9 268.7 609.2 274.3C607.6 280.0 605.3 285.5 602.4 290.6C599.5 295.7 596.0 300.6 592.0 305.0C588.1 309.3 580.9 314.6 578.7 316.6" stroke-width="2.5" opacity="0.26"/><path d="M632.8 344.8C631.6 347.6 627.6 356.0 625.5 361.7C623.3 367.4 621.4 373.3 619.7 379.2C618.1 385.1 616.8 391.1 615.7 397.2C614.7 403.2 613.8 412.4 613.4 415.5" stroke-width="1.7" opacity="0.35"/><path d="M524.5 412.5C525.3 415.6 528.2 424.8 529.4 431.0C530.7 437.3 531.6 443.6 532.1 450.0C532.6 456.3 532.8 462.7 532.5 469.1C532.3 475.4 531.0 484.9 530.7 488.1" stroke-width="2.7" opacity="0.22"/><path d="M645.0 357.2C646.6 355.9 651.1 351.5 654.6 349.4C658.1 347.2 662.0 345.4 665.9 344.3C669.8 343.1 674.0 342.4 678.1 342.3C682.2 342.2 688.4 343.4 690.4 343.6" stroke-width="2.3" opacity="0.35"/><path d="M500.8 330.5C502.2 329.6 506.4 326.6 509.2 324.6C512.0 322.7 514.8 320.7 517.7 318.8C520.5 317.0 523.4 315.1 526.3 313.3C529.2 311.5 533.6 308.8 535.1 307.9" stroke-width="2.0" opacity="0.12"/><path d="M500.3 356.1C497.9 358.4 490.5 364.8 486.2 369.7C481.9 374.5 477.9 379.8 474.5 385.4C471.1 390.9 468.1 396.8 465.7 402.8C463.3 408.9 460.9 418.4 459.9 421.5" stroke-width="1.7" opacity="0.13"/><path d="M580.1 457.0C582.0 455.6 587.6 451.3 591.5 448.4C595.3 445.6 599.1 442.8 603.0 440.0C606.9 437.2 610.8 434.5 614.7 431.8C618.6 429.0 624.5 425.0 626.4 423.7" stroke-width="2.3" opacity="0.27"/><path d="M505.0 447.5C506.6 445.9 511.5 441.4 514.4 438.1C517.4 434.8 520.2 431.4 522.7 427.8C525.3 424.2 527.7 420.5 529.9 416.6C532.1 412.8 534.8 406.8 535.8 404.8" stroke-width="2.2" opacity="0.19"/><path d="M563.6 281.6C563.1 278.3 561.1 268.7 560.5 262.2C560.0 255.7 560.0 249.1 560.4 242.6C560.8 236.1 561.8 229.6 563.1 223.2C564.5 216.8 567.8 207.5 568.7 204.4" stroke-width="1.9" opacity="0.21"/><path d="M537.9 447.3C537.9 449.2 538.1 455.0 537.9 458.8C537.7 462.6 537.4 466.5 536.9 470.3C536.4 474.1 535.7 477.9 534.9 481.7C534.0 485.4 532.4 491.0 531.9 492.8" stroke-width="2.4" opacity="0.20"/><path d="M526.7 339.7C527.4 338.1 529.6 333.4 530.9 330.2C532.2 327.0 533.5 323.7 534.7 320.4C535.9 317.2 537.0 313.9 538.0 310.5C539.0 307.2 540.4 302.2 540.8 300.5" stroke-width="1.8" opacity="0.18"/><path d="M566.8 353.7C568.3 351.0 573.6 343.2 575.6 337.4C577.7 331.7 579.0 325.4 579.2 319.3C579.5 313.2 578.8 306.8 577.2 300.9C575.7 295.0 571.1 286.8 569.8 283.9" stroke-width="1.8" opacity="0.20"/><path d="M622.2 406.2C622.1 404.6 621.8 399.8 621.3 396.7C620.9 393.6 620.2 390.5 619.3 387.5C618.4 384.4 617.3 381.4 616.0 378.6C614.7 375.7 612.3 371.6 611.6 370.2" stroke-width="2.7" opacity="0.27"/><path d="M633.9 297.7C632.6 296.5 628.7 292.9 626.1 290.5C623.5 288.1 620.8 285.7 618.2 283.3C615.6 280.9 612.9 278.6 610.3 276.2C607.6 273.8 603.6 270.3 602.3 269.1" stroke-width="2.1" opacity="0.33"/><path d="M571.2 406.8C570.2 409.2 568.1 416.7 565.7 421.1C563.2 425.6 560.0 429.8 556.5 433.4C553.0 437.0 548.8 440.3 544.4 442.8C540.0 445.3 532.5 447.6 530.2 448.6" stroke-width="1.8" opacity="0.21"/><path d="M663.1 424.8C665.0 423.1 670.8 418.2 674.4 414.6C678.1 411.0 681.5 407.3 684.8 403.4C688.0 399.4 691.1 395.4 693.9 391.2C696.8 387.0 700.6 380.3 701.9 378.1" stroke-width="1.7" opacity="0.35"/><path d="M521.1 446.5C524.2 445.0 533.2 439.7 539.6 437.7C546.1 435.7 553.1 434.6 559.9 434.5C566.6 434.4 573.7 435.3 580.2 437.1C586.7 438.9 595.8 443.9 599.0 445.3" stroke-width="2.3" opacity="0.18"/><path d="M643.6 374.6C642.3 374.5 638.1 374.0 635.4 374.0C632.6 374.0 629.9 374.2 627.1 374.7C624.4 375.1 621.7 375.8 619.1 376.6C616.5 377.5 612.7 379.3 611.5 379.8" stroke-width="2.3" opacity="0.19"/><path d="M625.4 344.8C627.1 346.6 632.5 351.6 635.5 355.4C638.5 359.3 641.1 363.5 643.2 367.9C645.3 372.3 646.9 377.0 648.0 381.8C649.2 386.5 649.6 393.9 649.9 396.3" stroke-width="2.7" opacity="0.20"/><path d="M576.7 354.9C575.1 355.1 570.2 355.3 566.9 355.7C563.7 356.1 560.5 356.7 557.3 357.3C554.1 358.0 550.9 358.8 547.8 359.8C544.7 360.7 540.1 362.4 538.5 362.9" stroke-width="1.6" opacity="0.24"/><path d="M665.6 281.5C665.2 279.1 664.2 272.1 663.0 267.5C661.9 263.0 660.4 258.4 658.7 254.0C657.0 249.6 655.0 245.3 652.8 241.2C650.6 237.0 646.6 231.1 645.4 229.1" stroke-width="1.9" opacity="0.38"/><path d="M519.6 376.2C516.3 375.4 506.4 372.0 499.7 371.5C493.0 370.9 485.9 371.4 479.4 372.9C472.8 374.4 466.2 377.0 460.3 380.3C454.5 383.7 447.1 390.9 444.4 393.1" stroke-width="1.5" opacity="0.26"/><path d="M564.9 339.6C566.1 340.7 569.5 344.2 571.9 346.2C574.4 348.2 577.1 350.1 579.8 351.8C582.5 353.5 585.4 355.0 588.3 356.3C591.2 357.7 595.8 359.1 597.3 359.7" stroke-width="2.4" opacity="0.16"/><path d="M538.6 338.1C537.6 338.7 534.9 340.9 532.9 342.1C530.9 343.3 528.8 344.3 526.6 345.1C524.4 345.9 522.2 346.6 519.9 347.0C517.6 347.4 514.1 347.6 512.9 347.7" stroke-width="2.6" opacity="0.25"/><path d="M625.3 337.0C623.8 334.2 618.6 326.3 616.0 320.6C613.5 314.8 611.6 308.7 610.3 302.6C609.0 296.5 608.4 290.1 608.3 283.9C608.3 277.6 609.9 268.2 610.3 265.1" stroke-width="2.6" opacity="0.31"/><path d="M629.6 442.0C630.2 440.2 631.7 434.8 632.7 431.2C633.8 427.6 634.8 424.0 635.9 420.4C636.9 416.9 638.0 413.3 639.1 409.7C640.1 406.1 641.7 400.7 642.3 398.9" stroke-width="1.6" opacity="0.24"/><path d="M616.3 300.3C614.6 299.4 609.7 296.5 606.3 295.1C602.9 293.6 599.3 292.4 595.7 291.4C592.0 290.5 588.3 289.8 584.6 289.4C580.9 289.0 575.2 289.1 573.3 289.0" stroke-width="1.9" opacity="0.27"/><path d="M588.9 346.9C589.3 344.3 590.4 336.4 591.4 331.2C592.4 326.0 593.6 320.9 595.0 315.7C596.3 310.6 597.9 305.5 599.6 300.5C601.3 295.5 604.3 288.2 605.2 285.7" stroke-width="1.6" opacity="0.15"/><path d="M573.4 280.8C571.6 278.2 565.5 270.7 562.5 265.1C559.5 259.6 557.1 253.5 555.4 247.4C553.8 241.3 552.8 234.9 552.5 228.6C552.2 222.2 553.6 212.7 553.9 209.5" stroke-width="2.1" opacity="0.29"/><path d="M627.2 362.4C626.0 361.5 622.7 358.5 620.1 356.9C617.6 355.4 614.8 354.0 612.0 353.1C609.2 352.1 606.2 351.4 603.3 351.0C600.3 350.6 595.8 350.9 594.3 350.9" stroke-width="2.6" opacity="0.35"/><path d="M461.5 374.3C462.0 372.4 463.2 366.6 464.4 362.9C465.5 359.2 466.9 355.5 468.4 351.9C470.0 348.3 471.7 344.7 473.6 341.3C475.5 337.9 478.8 333.0 479.8 331.4" stroke-width="2.4" opacity="0.15"/><path d="M468.1 420.2C470.8 419.3 479.2 417.1 484.4 414.6C489.5 412.1 494.5 409.0 498.9 405.3C503.3 401.7 507.4 397.4 510.8 392.9C514.2 388.3 518.0 380.5 519.4 378.0" stroke-width="2.4" opacity="0.19"/><path d="M459.6 335.9C463.8 336.7 476.6 339.5 485.3 340.5C493.9 341.5 502.6 341.9 511.3 341.9C520.0 341.8 528.8 341.2 537.4 340.0C546.0 338.9 558.7 335.8 563.0 335.0" stroke-width="1.7" opacity="0.13"/><path d="M471.2 263.4C471.5 259.5 474.2 247.8 473.2 240.5C472.2 233.1 469.1 225.2 464.9 219.0C460.8 212.8 454.6 207.1 448.1 203.3C441.6 199.6 429.7 197.8 426.1 196.7" stroke-width="2.3" opacity="0.16"/><path d="M435.4 430.8C438.0 432.0 446.3 435.0 451.0 438.3C455.7 441.5 460.1 445.7 463.5 450.2C466.9 454.8 469.8 460.1 471.7 465.5C473.5 470.9 474.2 479.7 474.7 482.5" stroke-width="1.7" opacity="0.19"/><path d="M431.5 303.0C429.5 306.2 423.4 315.6 419.8 322.1C416.1 328.6 412.7 335.3 409.5 342.1C406.3 348.9 403.3 355.8 400.7 362.8C398.0 369.8 394.6 380.5 393.4 384.0" stroke-width="2.3" opacity="0.22"/><path d="M509.7 365.4C509.6 368.9 508.0 379.6 508.9 386.4C509.8 393.3 512.0 400.4 515.2 406.5C518.3 412.7 522.8 418.6 527.9 423.3C532.9 428.1 542.5 433.0 545.5 434.9" stroke-width="2.0" opacity="0.16"/><path d="M514.5 370.4C512.6 371.9 506.8 376.7 502.9 379.8C499.0 382.8 495.1 385.9 491.1 388.9C487.2 391.9 483.2 394.9 479.2 397.9C475.1 400.8 469.1 405.2 467.0 406.6" stroke-width="2.2" opacity="0.21"/><path d="M460.3 455.0C463.5 456.1 473.3 459.6 479.9 461.5C486.4 463.5 493.1 465.3 499.8 466.8C506.5 468.4 513.2 469.7 520.0 470.9C526.8 472.0 537.1 473.2 540.5 473.6" stroke-width="1.9" opacity="0.17"/><path d="M519.8 337.3C522.8 336.1 531.9 332.8 537.8 330.2C543.6 327.6 549.4 324.7 555.1 321.6C560.7 318.5 566.3 315.2 571.6 311.6C577.0 308.1 584.7 302.2 587.3 300.3" stroke-width="1.7" opacity="0.13"/><path d="M504.0 283.3C503.3 286.0 500.6 293.9 500.0 299.3C499.5 304.7 499.7 310.4 500.7 315.8C501.7 321.1 503.5 326.5 505.9 331.4C508.3 336.3 513.7 342.7 515.3 344.9" stroke-width="1.8" opacity="0.15"/><path d="M451.7 284.1C449.4 282.1 442.1 276.7 437.7 272.5C433.3 268.3 429.2 263.8 425.4 259.1C421.7 254.3 418.2 249.3 415.2 244.1C412.1 238.8 408.4 230.5 407.1 227.8" stroke-width="1.8" opacity="0.15"/><path d="M455.3 337.5C454.4 339.4 451.6 344.9 449.7 348.6C447.8 352.3 445.9 356.0 444.1 359.7C442.2 363.4 440.3 367.1 438.4 370.8C436.6 374.5 433.8 380.1 432.8 381.9" stroke-width="2.0" opacity="0.16"/><path d="M495.7 266.9C497.3 271.0 501.5 283.8 505.3 291.8C509.2 299.8 513.8 307.6 518.9 314.9C524.0 322.1 529.8 329.1 536.1 335.4C542.3 341.7 553.0 349.9 556.4 352.8" stroke-width="1.7" opacity="0.15"/><path d="M409.6 455.2C408.9 457.2 406.2 463.2 405.1 467.3C404.0 471.5 403.4 475.8 403.2 480.1C403.0 484.4 403.2 488.7 403.9 493.0C404.6 497.2 406.7 503.4 407.3 505.4" stroke-width="2.4" opacity="0.18"/><path d="M508.2 335.3C505.4 336.8 497.1 341.6 491.3 344.3C485.6 347.1 479.6 349.5 473.6 351.6C467.6 353.8 461.5 355.6 455.3 357.1C449.1 358.7 439.6 360.2 436.5 360.8" stroke-width="2.1" opacity="0.15"/><path d="M467.2 449.0C464.5 447.9 456.4 443.9 450.8 442.7C445.1 441.4 438.9 441.0 433.1 441.5C427.3 442.1 421.4 443.5 416.0 445.7C410.6 447.9 403.4 453.3 400.8 454.8" stroke-width="2.6" opacity="0.13"/><path d="M401.6 324.3C403.9 323.1 410.8 318.7 415.7 316.8C420.7 315.0 426.1 313.7 431.4 313.3C436.6 312.8 442.2 313.0 447.4 313.9C452.6 314.8 460.1 317.9 462.7 318.8" stroke-width="2.5" opacity="0.16"/><path d="M467.7 332.9C470.2 330.2 477.4 321.7 482.8 316.8C488.3 311.9 494.2 307.3 500.4 303.4C506.6 299.4 513.2 296.0 519.9 293.1C526.7 290.2 537.4 287.3 540.9 286.1" stroke-width="2.2" opacity="0.19"/><path d="M484.7 433.9C484.1 436.0 482.2 442.1 481.2 446.3C480.2 450.5 479.4 454.7 478.7 458.9C478.1 463.2 477.7 467.5 477.4 471.8C477.1 476.0 477.2 482.5 477.1 484.6" stroke-width="2.4" opacity="0.21"/><path d="M449.3 368.9C450.5 365.1 453.1 353.6 456.3 346.5C459.6 339.5 463.9 332.7 468.8 326.7C473.7 320.7 479.6 315.2 485.9 310.7C492.2 306.2 503.1 301.5 506.5 299.6" stroke-width="2.2" opacity="0.19"/><path d="M416.5 363.2C419.4 363.5 428.4 365.2 434.4 365.0C440.3 364.7 446.4 363.5 452.0 361.6C457.6 359.7 463.2 356.9 468.0 353.5C472.9 350.1 479.0 343.2 481.1 341.2" stroke-width="2.5" opacity="0.21"/><path d="M471.6 445.0C474.2 447.7 481.6 455.9 487.0 461.0C492.3 466.2 497.8 471.1 503.5 475.8C509.1 480.5 515.0 485.0 521.0 489.3C527.0 493.6 536.5 499.4 539.6 501.5" stroke-width="2.3" opacity="0.20"/><path d="M512.1 449.8C508.0 448.7 495.5 445.0 487.0 443.1C478.6 441.2 470.0 439.6 461.4 438.3C452.8 437.1 444.2 436.1 435.5 435.6C426.9 435.0 413.9 434.9 409.5 434.8" stroke-width="2.3" opacity="0.18"/><path d="M503.7 287.7C503.9 283.5 503.8 271.0 505.1 262.9C506.5 254.7 508.8 246.6 511.9 238.9C515.0 231.3 519.0 223.8 523.7 217.1C528.4 210.3 537.3 201.4 540.0 198.3" stroke-width="1.8" opacity="0.19"/><path d="M499.6 291.7C502.1 291.3 509.9 290.7 514.9 289.4C519.8 288.1 524.7 286.2 529.3 284.0C533.9 281.7 538.4 278.9 542.4 275.7C546.4 272.6 551.7 266.8 553.5 265.0" stroke-width="2.3" opacity="0.13"/></g>
<g fill="#f6f6f6" filter="url(#soft2)"><ellipse cx="612.4" cy="343.6" rx="3.7" ry="1.7" transform="rotate(87 612.4 343.6)" opacity="0.36"/><ellipse cx="589.1" cy="386.2" rx="2.1" ry="1.7" transform="rotate(133 589.1 386.2)" opacity="0.52"/><ellipse cx="635.9" cy="349.9" rx="2.4" ry="1.4" transform="rotate(129 635.9 349.9)" opacity="0.70"/><ellipse cx="573.8" cy="343.8" rx="3.7" ry="1.6" transform="rotate(70 573.8 343.8)" opacity="0.51"/><ellipse cx="612.1" cy="334.9" rx="3.7" ry="2.2" transform="rotate(50 612.1 334.9)" opacity="0.38"/><ellipse cx="652.5" cy="409.5" rx="2.5" ry="2.1" transform="rotate(32 652.5 409.5)" opacity="0.49"/><ellipse cx="627.4" cy="368.4" rx="3.0" ry="2.0" transform="rotate(76 627.4 368.4)" opacity="0.54"/><ellipse cx="624.7" cy="457.5" rx="2.3" ry="2.4" transform="rotate(56 624.7 457.5)" opacity="0.56"/><ellipse cx="569.1" cy="452.9" rx="3.2" ry="1.7" transform="rotate(148 569.1 452.9)" opacity="0.59"/><ellipse cx="604.9" cy="346.2" rx="2.7" ry="2.2" transform="rotate(38 604.9 346.2)" opacity="0.41"/><ellipse cx="620.6" cy="322.8" rx="2.3" ry="1.5" transform="rotate(15 620.6 322.8)" opacity="0.51"/><ellipse cx="621.5" cy="422.3" rx="2.4" ry="1.4" transform="rotate(40 621.5 422.3)" opacity="0.40"/><ellipse cx="584.7" cy="262.5" rx="3.3" ry="2.0" transform="rotate(140 584.7 262.5)" opacity="0.72"/><ellipse cx="651.3" cy="316.0" rx="2.0" ry="1.7" transform="rotate(155 651.3 316.0)" opacity="0.70"/><ellipse cx="614.7" cy="328.4" rx="3.0" ry="1.6" transform="rotate(20 614.7 328.4)" opacity="0.36"/><ellipse cx="583.1" cy="422.0" rx="3.0" ry="1.5" transform="rotate(126 583.1 422.0)" opacity="0.53"/><ellipse cx="615.1" cy="452.5" rx="1.9" ry="2.4" transform="rotate(33 615.1 452.5)" opacity="0.39"/><ellipse cx="573.5" cy="419.2" rx="2.4" ry="1.4" transform="rotate(134 573.5 419.2)" opacity="0.60"/><ellipse cx="632.2" cy="410.0" rx="3.7" ry="1.7" transform="rotate(151 632.2 410.0)" opacity="0.53"/><ellipse cx="596.6" cy="264.2" rx="3.6" ry="2.1" transform="rotate(70 596.6 264.2)" opacity="0.38"/><ellipse cx="562.9" cy="328.4" rx="3.4" ry="1.7" transform="rotate(54 562.9 328.4)" opacity="0.37"/><ellipse cx="648.4" cy="300.3" rx="3.4" ry="2.1" transform="rotate(62 648.4 300.3)" opacity="0.44"/><ellipse cx="542.8" cy="297.0" rx="3.7" ry="2.1" transform="rotate(45 542.8 297.0)" opacity="0.66"/><ellipse cx="614.1" cy="425.7" rx="2.9" ry="2.2" transform="rotate(34 614.1 425.7)" opacity="0.43"/><ellipse cx="606.6" cy="331.5" rx="3.5" ry="2.2" transform="rotate(100 606.6 331.5)" opacity="0.49"/><ellipse cx="633.2" cy="421.8" rx="2.8" ry="2.1" transform="rotate(146 633.2 421.8)" opacity="0.50"/><ellipse cx="605.3" cy="299.6" rx="2.7" ry="1.6" transform="rotate(23 605.3 299.6)" opacity="0.67"/><ellipse cx="615.8" cy="385.6" rx="3.6" ry="2.3" transform="rotate(74 615.8 385.6)" opacity="0.46"/><ellipse cx="602.5" cy="434.8" rx="3.7" ry="2.5" transform="rotate(73 602.5 434.8)" opacity="0.58"/><ellipse cx="541.9" cy="346.6" rx="2.1" ry="1.5" transform="rotate(61 541.9 346.6)" opacity="0.42"/><ellipse cx="526.1" cy="309.2" rx="3.5" ry="1.6" transform="rotate(10 526.1 309.2)" opacity="0.65"/><ellipse cx="595.3" cy="293.4" rx="3.4" ry="2.4" transform="rotate(149 595.3 293.4)" opacity="0.66"/><ellipse cx="582.8" cy="271.4" rx="1.8" ry="1.9" transform="rotate(144 582.8 271.4)" opacity="0.42"/><ellipse cx="582.4" cy="342.8" rx="3.1" ry="1.4" transform="rotate(9 582.4 342.8)" opacity="0.42"/><ellipse cx="603.7" cy="343.8" rx="3.7" ry="1.9" transform="rotate(160 603.7 343.8)" opacity="0.42"/><ellipse cx="565.0" cy="436.4" rx="2.7" ry="1.6" transform="rotate(53 565.0 436.4)" opacity="0.71"/><ellipse cx="584.8" cy="375.6" rx="2.1" ry="2.0" transform="rotate(176 584.8 375.6)" opacity="0.71"/><ellipse cx="583.3" cy="308.3" rx="3.0" ry="2.0" transform="rotate(137 583.3 308.3)" opacity="0.38"/><ellipse cx="627.6" cy="457.8" rx="2.1" ry="1.8" transform="rotate(88 627.6 457.8)" opacity="0.70"/><ellipse cx="649.9" cy="305.3" rx="2.1" ry="2.2" transform="rotate(6 649.9 305.3)" opacity="0.63"/><ellipse cx="593.9" cy="345.2" rx="3.4" ry="1.8" transform="rotate(88 593.9 345.2)" opacity="0.46"/><ellipse cx="642.6" cy="419.8" rx="3.3" ry="1.4" transform="rotate(80 642.6 419.8)" opacity="0.55"/><ellipse cx="600.3" cy="454.0" rx="2.1" ry="2.1" transform="rotate(136 600.3 454.0)" opacity="0.51"/><ellipse cx="563.9" cy="269.8" rx="2.5" ry="1.8" transform="rotate(54 563.9 269.8)" opacity="0.48"/><ellipse cx="660.1" cy="391.3" rx="3.6" ry="1.8" transform="rotate(143 660.1 391.3)" opacity="0.69"/><ellipse cx="609.2" cy="336.6" rx="3.2" ry="1.7" transform="rotate(115 609.2 336.6)" opacity="0.63"/><ellipse cx="579.0" cy="286.3" rx="2.0" ry="2.2" transform="rotate(83 579.0 286.3)" opacity="0.71"/><ellipse cx="567.2" cy="420.9" rx="2.1" ry="1.6" transform="rotate(14 567.2 420.9)" opacity="0.69"/><ellipse cx="649.8" cy="345.6" rx="2.5" ry="2.3" transform="rotate(81 649.8 345.6)" opacity="0.42"/><ellipse cx="607.1" cy="369.0" rx="3.3" ry="2.2" transform="rotate(180 607.1 369.0)" opacity="0.44"/><ellipse cx="659.8" cy="318.9" rx="3.2" ry="1.9" transform="rotate(86 659.8 318.9)" opacity="0.37"/><ellipse cx="567.7" cy="374.6" rx="2.1" ry="1.8" transform="rotate(57 567.7 374.6)" opacity="0.56"/><ellipse cx="530.9" cy="454.7" rx="3.3" ry="2.3" transform="rotate(26 530.9 454.7)" opacity="0.41"/><ellipse cx="529.1" cy="308.3" rx="2.1" ry="2.4" transform="rotate(86 529.1 308.3)" opacity="0.68"/><ellipse cx="609.5" cy="367.2" rx="2.6" ry="2.1" transform="rotate(75 609.5 367.2)" opacity="0.68"/><ellipse cx="548.7" cy="293.5" rx="3.3" ry="1.7" transform="rotate(75 548.7 293.5)" opacity="0.55"/><ellipse cx="567.0" cy="316.0" rx="2.3" ry="1.6" transform="rotate(31 567.0 316.0)" opacity="0.70"/><ellipse cx="634.2" cy="456.7" rx="3.0" ry="1.5" transform="rotate(90 634.2 456.7)" opacity="0.71"/><ellipse cx="614.2" cy="422.8" rx="2.3" ry="1.5" transform="rotate(174 614.2 422.8)" opacity="0.55"/><ellipse cx="651.0" cy="371.1" rx="2.4" ry="2.1" transform="rotate(84 651.0 371.1)" opacity="0.41"/><ellipse cx="636.9" cy="459.4" rx="3.5" ry="2.1" transform="rotate(141 636.9 459.4)" opacity="0.67"/><ellipse cx="634.0" cy="457.4" rx="3.3" ry="1.5" transform="rotate(50 634.0 457.4)" opacity="0.67"/><ellipse cx="613.2" cy="355.9" rx="2.4" ry="1.5" transform="rotate(59 613.2 355.9)" opacity="0.50"/><ellipse cx="569.8" cy="416.0" rx="2.2" ry="1.6" transform="rotate(93 569.8 416.0)" opacity="0.53"/><ellipse cx="591.0" cy="264.8" rx="2.7" ry="2.3" transform="rotate(163 591.0 264.8)" opacity="0.66"/><ellipse cx="576.6" cy="386.9" rx="2.5" ry="1.9" transform="rotate(171 576.6 386.9)" opacity="0.55"/><ellipse cx="621.8" cy="350.6" rx="3.1" ry="2.0" transform="rotate(5 621.8 350.6)" opacity="0.45"/><ellipse cx="627.6" cy="362.2" rx="3.4" ry="1.5" transform="rotate(10 627.6 362.2)" opacity="0.62"/><ellipse cx="611.6" cy="382.1" rx="3.4" ry="1.6" transform="rotate(168 611.6 382.1)" opacity="0.70"/><ellipse cx="653.4" cy="415.2" rx="2.3" ry="2.3" transform="rotate(171 653.4 415.2)" opacity="0.73"/><ellipse cx="651.6" cy="413.4" rx="2.2" ry="1.5" transform="rotate(98 651.6 413.4)" opacity="0.71"/><ellipse cx="601.4" cy="363.0" rx="3.2" ry="1.4" transform="rotate(81 601.4 363.0)" opacity="0.49"/><ellipse cx="564.5" cy="302.9" rx="3.7" ry="2.2" transform="rotate(171 564.5 302.9)" opacity="0.56"/><ellipse cx="576.5" cy="450.8" rx="2.3" ry="1.4" transform="rotate(104 576.5 450.8)" opacity="0.71"/><ellipse cx="593.7" cy="336.6" rx="3.1" ry="1.8" transform="rotate(105 593.7 336.6)" opacity="0.48"/><ellipse cx="544.5" cy="376.5" rx="3.3" ry="2.0" transform="rotate(14 544.5 376.5)" opacity="0.63"/><ellipse cx="637.3" cy="333.0" rx="2.6" ry="2.1" transform="rotate(93 637.3 333.0)" opacity="0.56"/><ellipse cx="657.4" cy="327.2" rx="3.0" ry="1.5" transform="rotate(139 657.4 327.2)" opacity="0.50"/><ellipse cx="628.7" cy="378.5" rx="3.6" ry="1.4" transform="rotate(16 628.7 378.5)" opacity="0.73"/><ellipse cx="599.4" cy="418.0" rx="2.7" ry="1.4" transform="rotate(138 599.4 418.0)" opacity="0.49"/><ellipse cx="596.3" cy="384.1" rx="3.1" ry="2.2" transform="rotate(108 596.3 384.1)" opacity="0.44"/><ellipse cx="630.8" cy="280.2" rx="3.5" ry="2.5" transform="rotate(144 630.8 280.2)" opacity="0.53"/><ellipse cx="582.0" cy="437.6" rx="1.8" ry="2.4" transform="rotate(50 582.0 437.6)" opacity="0.50"/><ellipse cx="569.1" cy="336.8" rx="3.2" ry="2.5" transform="rotate(73 569.1 336.8)" opacity="0.44"/><ellipse cx="568.0" cy="377.6" rx="3.2" ry="2.1" transform="rotate(108 568.0 377.6)" opacity="0.63"/><ellipse cx="618.7" cy="433.4" rx="3.1" ry="2.5" transform="rotate(116 618.7 433.4)" opacity="0.65"/><ellipse cx="531.4" cy="419.0" rx="2.7" ry="1.5" transform="rotate(22 531.4 419.0)" opacity="0.46"/><ellipse cx="628.6" cy="356.8" rx="2.9" ry="2.4" transform="rotate(142 628.6 356.8)" opacity="0.58"/><ellipse cx="625.7" cy="424.5" rx="2.7" ry="1.7" transform="rotate(176 625.7 424.5)" opacity="0.52"/><ellipse cx="580.9" cy="362.3" rx="3.2" ry="1.4" transform="rotate(67 580.9 362.3)" opacity="0.39"/><ellipse cx="630.3" cy="439.6" rx="3.7" ry="2.0" transform="rotate(72 630.3 439.6)" opacity="0.69"/><ellipse cx="572.2" cy="302.7" rx="2.2" ry="1.4" transform="rotate(25 572.2 302.7)" opacity="0.71"/><ellipse cx="589.7" cy="263.7" rx="2.6" ry="1.6" transform="rotate(4 589.7 263.7)" opacity="0.39"/><ellipse cx="640.4" cy="345.2" rx="3.6" ry="1.5" transform="rotate(63 640.4 345.2)" opacity="0.73"/><ellipse cx="609.0" cy="440.6" rx="3.5" ry="2.0" transform="rotate(125 609.0 440.6)" opacity="0.73"/><ellipse cx="561.7" cy="423.4" rx="1.9" ry="1.7" transform="rotate(90 561.7 423.4)" opacity="0.65"/><ellipse cx="588.3" cy="356.2" rx="1.8" ry="1.5" transform="rotate(65 588.3 356.2)" opacity="0.54"/><ellipse cx="662.2" cy="318.7" rx="3.3" ry="1.3" transform="rotate(99 662.2 318.7)" opacity="0.67"/><ellipse cx="574.8" cy="303.2" rx="2.3" ry="1.9" transform="rotate(108 574.8 303.2)" opacity="0.72"/><ellipse cx="571.1" cy="383.6" rx="2.1" ry="1.8" transform="rotate(34 571.1 383.6)" opacity="0.66"/><ellipse cx="582.2" cy="395.1" rx="2.9" ry="1.8" transform="rotate(127 582.2 395.1)" opacity="0.44"/><ellipse cx="645.7" cy="415.1" rx="2.5" ry="1.9" transform="rotate(143 645.7 415.1)" opacity="0.67"/><ellipse cx="647.3" cy="428.9" rx="3.4" ry="2.1" transform="rotate(36 647.3 428.9)" opacity="0.75"/><ellipse cx="521.9" cy="309.6" rx="2.4" ry="2.1" transform="rotate(156 521.9 309.6)" opacity="0.39"/><ellipse cx="623.2" cy="403.7" rx="3.6" ry="1.4" transform="rotate(118 623.2 403.7)" opacity="0.58"/><ellipse cx="624.9" cy="370.6" rx="3.7" ry="2.4" transform="rotate(69 624.9 370.6)" opacity="0.51"/><ellipse cx="663.9" cy="257.9" rx="3.8" ry="1.7" transform="rotate(41 663.9 257.9)" opacity="0.38"/><ellipse cx="637.9" cy="345.1" rx="3.0" ry="1.8" transform="rotate(157 637.9 345.1)" opacity="0.60"/><ellipse cx="642.2" cy="325.2" rx="3.4" ry="1.4" transform="rotate(172 642.2 325.2)" opacity="0.38"/><ellipse cx="611.0" cy="307.0" rx="2.4" ry="1.9" transform="rotate(7 611.0 307.0)" opacity="0.49"/><ellipse cx="563.2" cy="416.8" rx="2.9" ry="2.1" transform="rotate(77 563.2 416.8)" opacity="0.41"/><ellipse cx="645.3" cy="335.6" rx="2.6" ry="2.5" transform="rotate(177 645.3 335.6)" opacity="0.48"/><ellipse cx="644.6" cy="417.9" rx="2.4" ry="2.0" transform="rotate(169 644.6 417.9)" opacity="0.52"/><ellipse cx="589.0" cy="353.3" rx="3.6" ry="1.4" transform="rotate(27 589.0 353.3)" opacity="0.58"/><ellipse cx="665.4" cy="397.8" rx="2.7" ry="2.3" transform="rotate(26 665.4 397.8)" opacity="0.57"/><ellipse cx="617.4" cy="292.3" rx="2.4" ry="1.7" transform="rotate(119 617.4 292.3)" opacity="0.72"/><ellipse cx="655.1" cy="348.3" rx="3.4" ry="1.9" transform="rotate(18 655.1 348.3)" opacity="0.62"/><ellipse cx="624.5" cy="448.2" rx="2.2" ry="1.4" transform="rotate(173 624.5 448.2)" opacity="0.47"/><ellipse cx="575.7" cy="272.2" rx="2.5" ry="1.6" transform="rotate(58 575.7 272.2)" opacity="0.58"/><ellipse cx="664.5" cy="410.4" rx="2.6" ry="1.6" transform="rotate(146 664.5 410.4)" opacity="0.71"/><ellipse cx="610.8" cy="365.8" rx="2.3" ry="2.4" transform="rotate(47 610.8 365.8)" opacity="0.53"/><ellipse cx="617.7" cy="443.8" rx="2.2" ry="2.4" transform="rotate(146 617.7 443.8)" opacity="0.42"/><ellipse cx="585.4" cy="443.8" rx="3.1" ry="1.6" transform="rotate(179 585.4 443.8)" opacity="0.56"/><ellipse cx="590.7" cy="272.8" rx="2.1" ry="1.9" transform="rotate(94 590.7 272.8)" opacity="0.68"/><ellipse cx="645.9" cy="364.4" rx="3.4" ry="1.8" transform="rotate(107 645.9 364.4)" opacity="0.44"/><ellipse cx="566.7" cy="335.5" rx="3.3" ry="1.3" transform="rotate(178 566.7 335.5)" opacity="0.74"/><ellipse cx="615.2" cy="282.0" rx="2.5" ry="2.4" transform="rotate(104 615.2 282.0)" opacity="0.51"/><ellipse cx="537.2" cy="293.5" rx="1.9" ry="2.0" transform="rotate(177 537.2 293.5)" opacity="0.37"/><ellipse cx="579.1" cy="358.0" rx="2.3" ry="2.5" transform="rotate(173 579.1 358.0)" opacity="0.73"/><ellipse cx="586.7" cy="399.3" rx="2.8" ry="2.2" transform="rotate(4 586.7 399.3)" opacity="0.65"/><ellipse cx="554.7" cy="397.9" rx="3.7" ry="1.5" transform="rotate(119 554.7 397.9)" opacity="0.45"/><ellipse cx="620.2" cy="262.6" rx="3.0" ry="2.2" transform="rotate(157 620.2 262.6)" opacity="0.40"/><ellipse cx="532.7" cy="271.7" rx="3.2" ry="2.3" transform="rotate(140 532.7 271.7)" opacity="0.45"/><ellipse cx="614.5" cy="268.0" rx="2.2" ry="1.4" transform="rotate(166 614.5 268.0)" opacity="0.35"/><ellipse cx="573.4" cy="375.8" rx="2.6" ry="2.0" transform="rotate(113 573.4 375.8)" opacity="0.65"/><ellipse cx="610.4" cy="301.9" rx="2.1" ry="1.8" transform="rotate(118 610.4 301.9)" opacity="0.62"/><ellipse cx="626.5" cy="369.3" rx="2.3" ry="2.4" transform="rotate(70 626.5 369.3)" opacity="0.65"/><ellipse cx="628.9" cy="391.6" rx="3.3" ry="2.4" transform="rotate(154 628.9 391.6)" opacity="0.73"/><ellipse cx="629.9" cy="434.8" rx="3.8" ry="1.7" transform="rotate(86 629.9 434.8)" opacity="0.55"/><ellipse cx="645.1" cy="432.8" rx="3.1" ry="1.7" transform="rotate(135 645.1 432.8)" opacity="0.57"/><ellipse cx="610.9" cy="304.9" rx="3.3" ry="2.0" transform="rotate(112 610.9 304.9)" opacity="0.53"/><ellipse cx="643.5" cy="369.4" rx="2.9" ry="2.1" transform="rotate(90 643.5 369.4)" opacity="0.64"/><ellipse cx="567.9" cy="411.6" rx="3.3" ry="1.7" transform="rotate(16 567.9 411.6)" opacity="0.63"/><ellipse cx="623.0" cy="259.7" rx="3.0" ry="2.2" transform="rotate(75 623.0 259.7)" opacity="0.36"/><ellipse cx="587.9" cy="344.5" rx="2.7" ry="1.8" transform="rotate(79 587.9 344.5)" opacity="0.44"/><ellipse cx="577.7" cy="287.8" rx="2.3" ry="1.9" transform="rotate(79 577.7 287.8)" opacity="0.56"/><ellipse cx="589.1" cy="375.6" rx="1.8" ry="1.9" transform="rotate(23 589.1 375.6)" opacity="0.62"/><ellipse cx="609.4" cy="327.3" rx="3.6" ry="2.3" transform="rotate(113 609.4 327.3)" opacity="0.73"/><ellipse cx="654.5" cy="281.4" rx="2.7" ry="1.4" transform="rotate(166 654.5 281.4)" opacity="0.59"/><ellipse cx="554.3" cy="437.3" rx="3.1" ry="2.0" transform="rotate(100 554.3 437.3)" opacity="0.61"/><ellipse cx="635.7" cy="385.4" rx="3.4" ry="1.5" transform="rotate(173 635.7 385.4)" opacity="0.58"/><ellipse cx="589.2" cy="337.1" rx="3.7" ry="1.9" transform="rotate(120 589.2 337.1)" opacity="0.74"/><ellipse cx="652.1" cy="312.5" rx="3.1" ry="2.0" transform="rotate(36 652.1 312.5)" opacity="0.67"/><ellipse cx="658.0" cy="369.4" rx="3.3" ry="2.3" transform="rotate(39 658.0 369.4)" opacity="0.37"/><ellipse cx="563.7" cy="409.8" rx="2.0" ry="1.9" transform="rotate(65 563.7 409.8)" opacity="0.43"/><ellipse cx="629.2" cy="425.7" rx="2.3" ry="1.9" transform="rotate(110 629.2 425.7)" opacity="0.72"/><ellipse cx="644.8" cy="433.0" rx="3.0" ry="1.8" transform="rotate(42 644.8 433.0)" opacity="0.52"/><ellipse cx="665.9" cy="412.0" rx="2.3" ry="2.0" transform="rotate(48 665.9 412.0)" opacity="0.46"/><ellipse cx="628.1" cy="348.1" rx="3.7" ry="2.4" transform="rotate(141 628.1 348.1)" opacity="0.52"/><ellipse cx="590.4" cy="451.2" rx="2.2" ry="2.3" transform="rotate(165 590.4 451.2)" opacity="0.52"/><ellipse cx="613.7" cy="295.2" rx="3.1" ry="1.5" transform="rotate(164 613.7 295.2)" opacity="0.36"/><ellipse cx="575.6" cy="349.6" rx="3.4" ry="1.8" transform="rotate(68 575.6 349.6)" opacity="0.70"/><ellipse cx="616.6" cy="366.7" rx="2.9" ry="1.9" transform="rotate(36 616.6 366.7)" opacity="0.58"/><ellipse cx="630.9" cy="415.2" rx="2.0" ry="1.7" transform="rotate(86 630.9 415.2)" opacity="0.65"/><ellipse cx="662.9" cy="314.4" rx="3.8" ry="2.1" transform="rotate(97 662.9 314.4)" opacity="0.40"/><ellipse cx="526.0" cy="409.7" rx="3.4" ry="1.8" transform="rotate(72 526.0 409.7)" opacity="0.61"/><ellipse cx="622.6" cy="427.8" rx="2.6" ry="1.7" transform="rotate(40 622.6 427.8)" opacity="0.54"/><ellipse cx="665.0" cy="372.2" rx="3.5" ry="1.6" transform="rotate(78 665.0 372.2)" opacity="0.62"/><ellipse cx="552.9" cy="424.4" rx="3.1" ry="1.5" transform="rotate(174 552.9 424.4)" opacity="0.36"/><ellipse cx="593.6" cy="445.1" rx="2.5" ry="1.7" transform="rotate(117 593.6 445.1)" opacity="0.55"/><ellipse cx="623.2" cy="386.9" rx="3.2" ry="2.1" transform="rotate(1 623.2 386.9)" opacity="0.50"/><ellipse cx="580.9" cy="392.3" rx="3.4" ry="2.2" transform="rotate(142 580.9 392.3)" opacity="0.69"/><ellipse cx="578.2" cy="459.1" rx="1.9" ry="2.2" transform="rotate(91 578.2 459.1)" opacity="0.51"/><ellipse cx="618.5" cy="316.5" rx="3.4" ry="2.5" transform="rotate(51 618.5 316.5)" opacity="0.39"/><ellipse cx="573.3" cy="357.1" rx="2.1" ry="1.8" transform="rotate(57 573.3 357.1)" opacity="0.68"/><ellipse cx="623.4" cy="324.1" rx="2.1" ry="1.8" transform="rotate(178 623.4 324.1)" opacity="0.37"/><ellipse cx="610.1" cy="379.5" rx="3.5" ry="1.4" transform="rotate(149 610.1 379.5)" opacity="0.58"/><ellipse cx="629.6" cy="402.4" rx="2.4" ry="2.1" transform="rotate(8 629.6 402.4)" opacity="0.54"/><ellipse cx="589.0" cy="387.5" rx="3.2" ry="2.0" transform="rotate(50 589.0 387.5)" opacity="0.41"/><ellipse cx="659.6" cy="422.5" rx="3.0" ry="1.7" transform="rotate(73 659.6 422.5)" opacity="0.39"/><ellipse cx="624.5" cy="293.9" rx="2.4" ry="1.7" transform="rotate(132 624.5 293.9)" opacity="0.44"/><ellipse cx="661.3" cy="397.6" rx="3.4" ry="2.3" transform="rotate(55 661.3 397.6)" opacity="0.59"/><ellipse cx="640.5" cy="441.6" rx="2.6" ry="2.2" transform="rotate(30 640.5 441.6)" opacity="0.50"/><ellipse cx="616.9" cy="373.4" rx="2.4" ry="1.7" transform="rotate(27 616.9 373.4)" opacity="0.38"/><ellipse cx="615.0" cy="278.7" rx="2.9" ry="2.3" transform="rotate(162 615.0 278.7)" opacity="0.52"/><ellipse cx="527.8" cy="305.7" rx="3.6" ry="2.2" transform="rotate(74 527.8 305.7)" opacity="0.73"/><ellipse cx="631.8" cy="399.0" rx="3.2" ry="1.7" transform="rotate(150 631.8 399.0)" opacity="0.62"/><ellipse cx="643.4" cy="339.4" rx="2.1" ry="2.0" transform="rotate(36 643.4 339.4)" opacity="0.60"/><ellipse cx="626.1" cy="313.2" rx="2.4" ry="1.5" transform="rotate(19 626.1 313.2)" opacity="0.49"/><ellipse cx="652.1" cy="453.8" rx="3.3" ry="1.7" transform="rotate(146 652.1 453.8)" opacity="0.48"/><ellipse cx="617.3" cy="370.7" rx="1.9" ry="2.2" transform="rotate(148 617.3 370.7)" opacity="0.40"/><ellipse cx="649.1" cy="310.1" rx="2.5" ry="1.3" transform="rotate(20 649.1 310.1)" opacity="0.35"/><ellipse cx="612.5" cy="361.6" rx="1.8" ry="2.0" transform="rotate(39 612.5 361.6)" opacity="0.47"/><ellipse cx="632.3" cy="406.7" rx="2.5" ry="1.7" transform="rotate(137 632.3 406.7)" opacity="0.41"/><ellipse cx="663.5" cy="316.7" rx="2.6" ry="2.1" transform="rotate(166 663.5 316.7)" opacity="0.60"/><ellipse cx="598.9" cy="308.6" rx="1.9" ry="1.6" transform="rotate(168 598.9 308.6)" opacity="0.75"/><ellipse cx="610.8" cy="349.9" rx="3.5" ry="2.1" transform="rotate(92 610.8 349.9)" opacity="0.43"/><ellipse cx="578.2" cy="270.3" rx="3.1" ry="2.1" transform="rotate(16 578.2 270.3)" opacity="0.47"/><ellipse cx="615.2" cy="322.8" rx="2.8" ry="1.6" transform="rotate(128 615.2 322.8)" opacity="0.62"/><ellipse cx="607.8" cy="376.8" rx="3.4" ry="2.0" transform="rotate(80 607.8 376.8)" opacity="0.39"/><ellipse cx="570.1" cy="272.3" rx="1.8" ry="1.4" transform="rotate(73 570.1 272.3)" opacity="0.59"/><ellipse cx="587.5" cy="291.3" rx="2.7" ry="1.9" transform="rotate(72 587.5 291.3)" opacity="0.67"/><ellipse cx="608.9" cy="362.2" rx="3.4" ry="2.1" transform="rotate(135 608.9 362.2)" opacity="0.73"/><ellipse cx="589.5" cy="418.6" rx="2.1" ry="2.3" transform="rotate(21 589.5 418.6)" opacity="0.67"/><ellipse cx="617.8" cy="421.0" rx="2.8" ry="1.8" transform="rotate(74 617.8 421.0)" opacity="0.43"/><ellipse cx="632.4" cy="411.4" rx="2.2" ry="2.4" transform="rotate(154 632.4 411.4)" opacity="0.39"/><ellipse cx="623.6" cy="302.9" rx="2.0" ry="1.6" transform="rotate(6 623.6 302.9)" opacity="0.68"/><ellipse cx="589.8" cy="265.4" rx="3.4" ry="2.2" transform="rotate(88 589.8 265.4)" opacity="0.64"/><ellipse cx="524.6" cy="426.7" rx="3.5" ry="2.0" transform="rotate(25 524.6 426.7)" opacity="0.70"/><ellipse cx="626.0" cy="444.0" rx="3.7" ry="2.0" transform="rotate(171 626.0 444.0)" opacity="0.44"/><ellipse cx="655.8" cy="285.0" rx="3.6" ry="2.1" transform="rotate(120 655.8 285.0)" opacity="0.70"/><ellipse cx="632.2" cy="380.5" rx="1.9" ry="2.1" transform="rotate(91 632.2 380.5)" opacity="0.43"/><ellipse cx="565.7" cy="434.8" rx="2.6" ry="2.1" transform="rotate(80 565.7 434.8)" opacity="0.36"/><ellipse cx="539.8" cy="456.6" rx="2.4" ry="1.4" transform="rotate(34 539.8 456.6)" opacity="0.45"/><ellipse cx="575.1" cy="446.4" rx="2.0" ry="2.0" transform="rotate(62 575.1 446.4)" opacity="0.48"/><ellipse cx="625.8" cy="260.4" rx="2.5" ry="1.8" transform="rotate(42 625.8 260.4)" opacity="0.37"/><ellipse cx="593.4" cy="289.0" rx="3.8" ry="1.5" transform="rotate(114 593.4 289.0)" opacity="0.56"/><ellipse cx="622.1" cy="327.5" rx="3.5" ry="2.1" transform="rotate(108 622.1 327.5)" opacity="0.58"/><ellipse cx="533.6" cy="387.1" rx="3.3" ry="1.3" transform="rotate(55 533.6 387.1)" opacity="0.41"/><ellipse cx="628.7" cy="437.8" rx="3.2" ry="1.4" transform="rotate(91 628.7 437.8)" opacity="0.49"/><ellipse cx="629.3" cy="405.1" rx="3.3" ry="1.4" transform="rotate(141 629.3 405.1)" opacity="0.36"/><ellipse cx="581.0" cy="422.4" rx="1.9" ry="1.6" transform="rotate(66 581.0 422.4)" opacity="0.57"/><ellipse cx="584.3" cy="337.3" rx="2.4" ry="2.4" transform="rotate(162 584.3 337.3)" opacity="0.49"/><ellipse cx="589.3" cy="318.9" rx="2.8" ry="1.8" transform="rotate(107 589.3 318.9)" opacity="0.70"/><ellipse cx="648.6" cy="330.0" rx="2.1" ry="1.6" transform="rotate(20 648.6 330.0)" opacity="0.65"/><ellipse cx="623.8" cy="347.9" rx="3.0" ry="1.4" transform="rotate(9 623.8 347.9)" opacity="0.44"/><ellipse cx="535.4" cy="395.6" rx="2.2" ry="1.8" transform="rotate(151 535.4 395.6)" opacity="0.75"/><ellipse cx="602.9" cy="370.8" rx="3.0" ry="1.8" transform="rotate(131 602.9 370.8)" opacity="0.71"/><ellipse cx="569.7" cy="425.0" rx="3.6" ry="1.9" transform="rotate(164 569.7 425.0)" opacity="0.68"/><ellipse cx="571.8" cy="326.7" rx="3.0" ry="1.7" transform="rotate(70 571.8 326.7)" opacity="0.40"/><ellipse cx="646.0" cy="307.2" rx="1.8" ry="2.1" transform="rotate(39 646.0 307.2)" opacity="0.75"/><ellipse cx="624.4" cy="435.2" rx="3.5" ry="2.0" transform="rotate(138 624.4 435.2)" opacity="0.42"/><ellipse cx="642.1" cy="300.0" rx="2.0" ry="1.3" transform="rotate(133 642.1 300.0)" opacity="0.74"/><ellipse cx="605.4" cy="315.3" rx="3.6" ry="2.4" transform="rotate(79 605.4 315.3)" opacity="0.39"/><ellipse cx="541.1" cy="391.4" rx="2.1" ry="1.9" transform="rotate(153 541.1 391.4)" opacity="0.69"/><ellipse cx="660.1" cy="376.3" rx="3.1" ry="1.4" transform="rotate(171 660.1 376.3)" opacity="0.71"/><ellipse cx="603.4" cy="348.8" rx="3.6" ry="2.5" transform="rotate(3 603.4 348.8)" opacity="0.58"/><ellipse cx="646.9" cy="446.6" rx="2.4" ry="2.4" transform="rotate(140 646.9 446.6)" opacity="0.46"/><ellipse cx="531.2" cy="368.3" rx="3.5" ry="1.6" transform="rotate(158 531.2 368.3)" opacity="0.47"/><ellipse cx="630.6" cy="399.2" rx="3.0" ry="1.6" transform="rotate(173 630.6 399.2)" opacity="0.59"/><ellipse cx="585.0" cy="333.7" rx="2.0" ry="1.3" transform="rotate(155 585.0 333.7)" opacity="0.58"/><ellipse cx="571.5" cy="444.6" rx="3.3" ry="2.5" transform="rotate(91 571.5 444.6)" opacity="0.38"/><ellipse cx="603.2" cy="370.2" rx="2.5" ry="1.6" transform="rotate(36 603.2 370.2)" opacity="0.74"/><ellipse cx="612.0" cy="306.1" rx="2.3" ry="1.8" transform="rotate(11 612.0 306.1)" opacity="0.48"/><ellipse cx="647.4" cy="257.4" rx="2.6" ry="1.5" transform="rotate(46 647.4 257.4)" opacity="0.64"/><ellipse cx="558.0" cy="343.6" rx="2.6" ry="1.5" transform="rotate(134 558.0 343.6)" opacity="0.66"/><ellipse cx="579.3" cy="258.7" rx="2.4" ry="1.4" transform="rotate(69 579.3 258.7)" opacity="0.41"/><ellipse cx="657.3" cy="430.5" rx="3.6" ry="1.8" transform="rotate(149 657.3 430.5)" opacity="0.64"/><ellipse cx="613.3" cy="272.9" rx="2.1" ry="2.4" transform="rotate(126 613.3 272.9)" opacity="0.55"/><ellipse cx="605.7" cy="445.6" rx="2.6" ry="2.4" transform="rotate(160 605.7 445.6)" opacity="0.63"/><ellipse cx="632.5" cy="376.5" rx="2.2" ry="2.3" transform="rotate(27 632.5 376.5)" opacity="0.60"/><ellipse cx="591.7" cy="369.3" rx="3.7" ry="1.9" transform="rotate(129 591.7 369.3)" opacity="0.36"/><ellipse cx="576.4" cy="282.1" rx="2.4" ry="2.1" transform="rotate(79 576.4 282.1)" opacity="0.70"/><ellipse cx="621.7" cy="353.1" rx="3.2" ry="2.3" transform="rotate(160 621.7 353.1)" opacity="0.43"/><ellipse cx="626.2" cy="355.8" rx="2.0" ry="2.1" transform="rotate(150 626.2 355.8)" opacity="0.43"/><ellipse cx="571.4" cy="300.6" rx="2.7" ry="1.8" transform="rotate(89 571.4 300.6)" opacity="0.60"/><ellipse cx="521.3" cy="309.7" rx="3.5" ry="2.0" transform="rotate(122 521.3 309.7)" opacity="0.41"/><ellipse cx="616.1" cy="456.9" rx="3.0" ry="2.2" transform="rotate(44 616.1 456.9)" opacity="0.60"/><ellipse cx="635.8" cy="307.6" rx="2.9" ry="1.9" transform="rotate(99 635.8 307.6)" opacity="0.47"/><ellipse cx="569.5" cy="293.9" rx="2.4" ry="1.4" transform="rotate(103 569.5 293.9)" opacity="0.39"/><ellipse cx="632.5" cy="452.0" rx="1.9" ry="1.5" transform="rotate(79 632.5 452.0)" opacity="0.70"/><ellipse cx="637.8" cy="314.8" rx="2.6" ry="2.5" transform="rotate(29 637.8 314.8)" opacity="0.68"/><ellipse cx="564.5" cy="362.0" rx="2.1" ry="1.8" transform="rotate(146 564.5 362.0)" opacity="0.42"/><ellipse cx="535.9" cy="442.9" rx="3.4" ry="2.0" transform="rotate(66 535.9 442.9)" opacity="0.41"/><ellipse cx="658.3" cy="424.5" rx="2.0" ry="1.5" transform="rotate(142 658.3 424.5)" opacity="0.58"/><ellipse cx="572.0" cy="321.5" rx="3.5" ry="2.3" transform="rotate(126 572.0 321.5)" opacity="0.61"/><ellipse cx="610.0" cy="266.3" rx="2.7" ry="2.4" transform="rotate(95 610.0 266.3)" opacity="0.47"/><ellipse cx="641.7" cy="444.3" rx="2.4" ry="2.1" transform="rotate(78 641.7 444.3)" opacity="0.67"/><ellipse cx="602.4" cy="313.5" rx="2.1" ry="2.4" transform="rotate(111 602.4 313.5)" opacity="0.50"/><ellipse cx="625.6" cy="369.3" rx="2.8" ry="1.6" transform="rotate(113 625.6 369.3)" opacity="0.61"/><ellipse cx="533.4" cy="267.4" rx="3.5" ry="2.2" transform="rotate(123 533.4 267.4)" opacity="0.52"/><ellipse cx="608.3" cy="260.3" rx="2.1" ry="1.4" transform="rotate(153 608.3 260.3)" opacity="0.48"/><ellipse cx="552.8" cy="443.1" rx="2.4" ry="2.5" transform="rotate(75 552.8 443.1)" opacity="0.36"/><ellipse cx="520.4" cy="368.3" rx="3.1" ry="1.7" transform="rotate(18 520.4 368.3)" opacity="0.59"/><ellipse cx="598.7" cy="278.3" rx="2.1" ry="2.1" transform="rotate(19 598.7 278.3)" opacity="0.36"/><ellipse cx="607.6" cy="351.6" rx="3.6" ry="2.0" transform="rotate(6 607.6 351.6)" opacity="0.39"/><ellipse cx="622.0" cy="411.7" rx="2.4" ry="2.3" transform="rotate(53 622.0 411.7)" opacity="0.39"/><ellipse cx="586.5" cy="330.4" rx="2.6" ry="2.2" transform="rotate(144 586.5 330.4)" opacity="0.42"/><ellipse cx="579.8" cy="369.3" rx="1.9" ry="1.7" transform="rotate(137 579.8 369.3)" opacity="0.56"/><ellipse cx="566.1" cy="288.6" rx="2.5" ry="1.9" transform="rotate(59 566.1 288.6)" opacity="0.49"/><ellipse cx="622.7" cy="340.1" rx="2.4" ry="1.4" transform="rotate(17 622.7 340.1)" opacity="0.43"/><ellipse cx="568.3" cy="357.1" rx="3.5" ry="2.3" transform="rotate(106 568.3 357.1)" opacity="0.38"/><ellipse cx="586.6" cy="308.1" rx="2.7" ry="1.6" transform="rotate(65 586.6 308.1)" opacity="0.57"/><ellipse cx="659.0" cy="336.5" rx="2.0" ry="1.4" transform="rotate(142 659.0 336.5)" opacity="0.56"/><ellipse cx="622.4" cy="354.3" rx="3.7" ry="2.2" transform="rotate(34 622.4 354.3)" opacity="0.55"/><ellipse cx="539.9" cy="330.6" rx="3.0" ry="2.4" transform="rotate(12 539.9 330.6)" opacity="0.59"/><ellipse cx="628.2" cy="313.5" rx="1.9" ry="1.4" transform="rotate(64 628.2 313.5)" opacity="0.60"/></g>
</g></g>
<text x="412.6" y="280.6" font-family='"Liberation Sans", "DejaVu Sans", sans-serif' font-size="17.9" font-weight="bold" fill="#ffffff">D</text>
<rect x="417.2" y="445.2" width="49.4" height="1.8" fill="#f4f4f4"/>
<text x="418.0" y="441.9" font-family='"DejaVu Sans Mono", "Liberation Mono", monospace' font-size="14.3" fill="#ffffff" stroke="#ffffff" stroke-width="0.35" textLength="64" lengthAdjust="spacingAndGlyphs" xml:space="preserve">200 nm</text>
</svg>
</body>
</html>
